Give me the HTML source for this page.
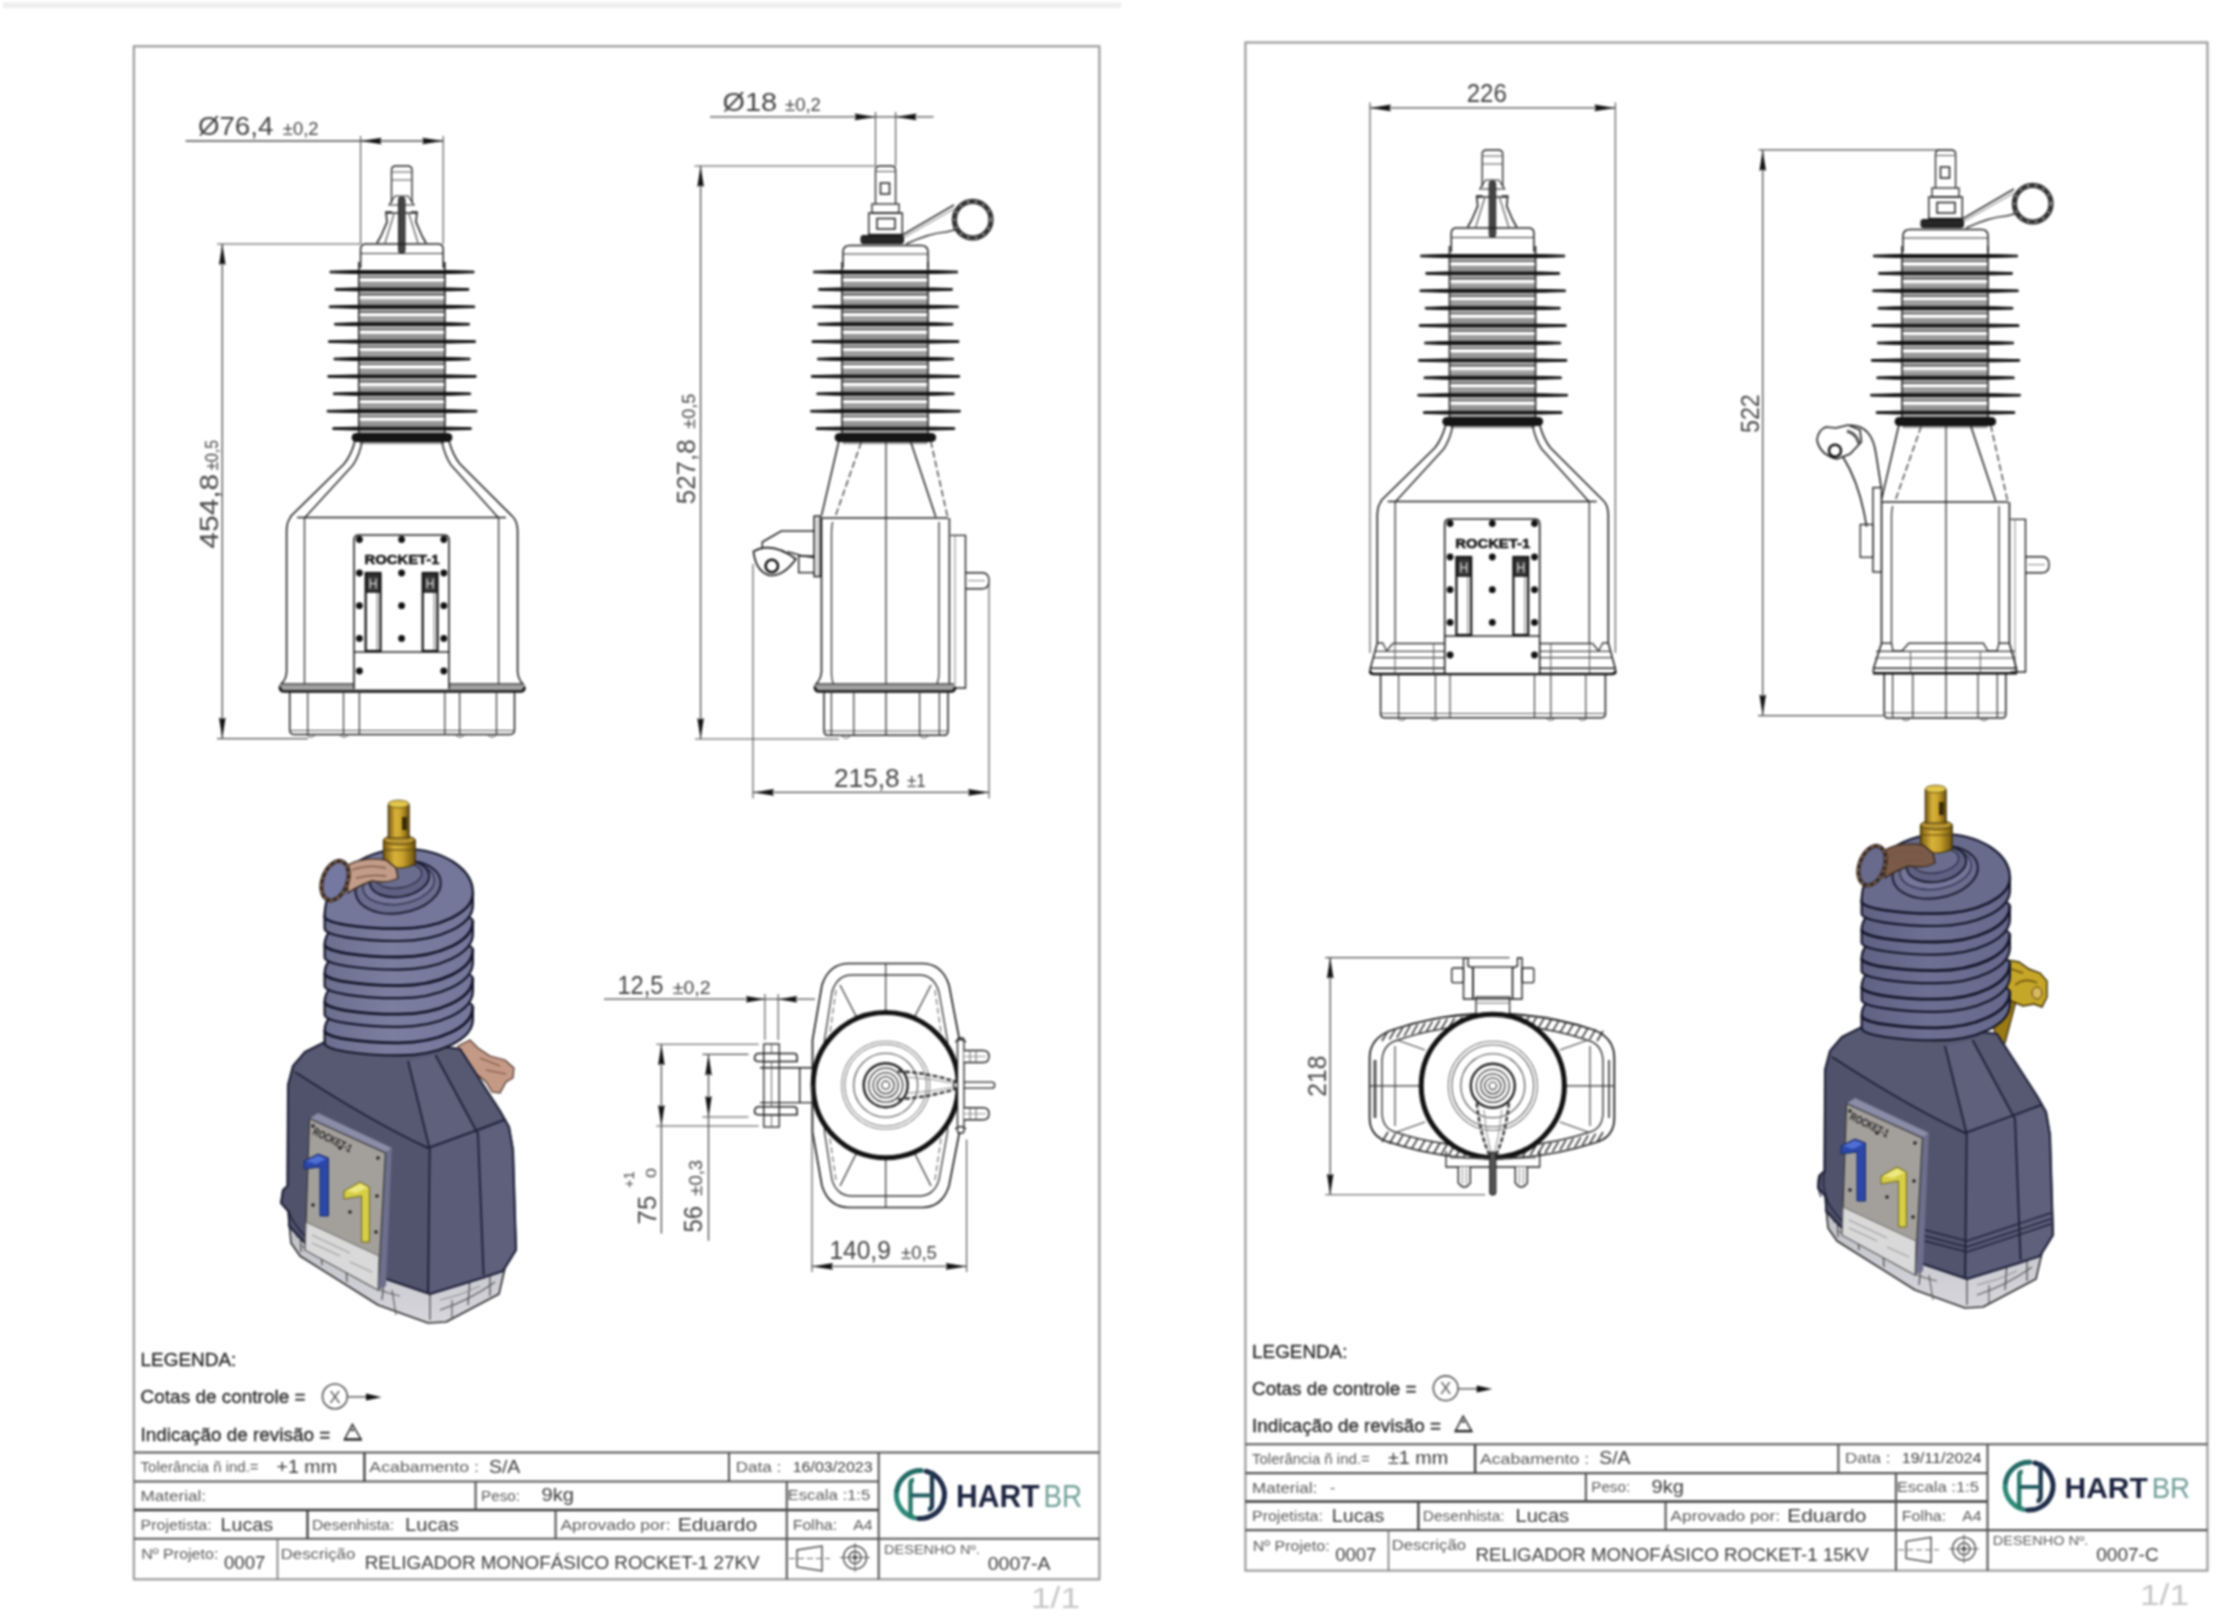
<!DOCTYPE html><html><head><meta charset="utf-8"><title>Religador Rocket-1</title><style>html,body{margin:0;padding:0;background:#fff;overflow:hidden}svg{display:block;filter:blur(0.8px)}text{font-family:"Liberation Sans",sans-serif}</style></head><body>
<svg width="2236" height="1611" viewBox="0 0 2236 1611">
<defs>
<linearGradient id="gold" x1="0" x2="1" y1="0" y2="0">
 <stop offset="0" stop-color="#7a5a10"/><stop offset="0.35" stop-color="#d8b23a"/><stop offset="0.6" stop-color="#c9a22c"/><stop offset="1" stop-color="#6e520e"/>
</linearGradient>
<linearGradient id="ins" x1="0" x2="1" y1="0" y2="0">
 <stop offset="0" stop-color="#6c6f8e"/><stop offset="0.45" stop-color="#7b7e9f"/><stop offset="1" stop-color="#74779a"/>
</linearGradient>
<linearGradient id="insR" x1="0" x2="1" y1="0" y2="0">
 <stop offset="0" stop-color="#5f6283"/><stop offset="0.45" stop-color="#6d7092"/><stop offset="1" stop-color="#66698b"/>
</linearGradient>
<linearGradient id="front" x1="0" x2="1" y1="0" y2="0">
 <stop offset="0" stop-color="#50526b"/><stop offset="1" stop-color="#54566f"/>
</linearGradient>
<linearGradient id="base" x1="0" x2="0" y1="0" y2="1">
 <stop offset="0" stop-color="#bcbcc4"/><stop offset="1" stop-color="#d6d6dc"/>
</linearGradient>
</defs>
<rect x="0" y="0" width="2236" height="1611" fill="#fff"/>
<rect x="3" y="2.5" width="1118" height="5.5" fill="#eeeeee"/>
<rect x="133.9" y="46.3" width="965.5" height="1533" fill="none" stroke="#9a9a9a" stroke-width="2.2" />
<text x="140.6" y="1365.8" font-size="19.2" fill="#2a2a2a" text-anchor="start" font-family="Liberation Sans" textLength="95.7" lengthAdjust="spacingAndGlyphs" stroke="#2a2a2a" stroke-width="0.35">LEGENDA:</text>
<text x="140.6" y="1403.3" font-size="19.2" fill="#2a2a2a" text-anchor="start" font-family="Liberation Sans" textLength="165" lengthAdjust="spacingAndGlyphs" stroke="#2a2a2a" stroke-width="0.35">Cotas de controle =</text>
<text x="140.6" y="1440.7" font-size="19.2" fill="#2a2a2a" text-anchor="start" font-family="Liberation Sans" textLength="189.6" lengthAdjust="spacingAndGlyphs" stroke="#2a2a2a" stroke-width="0.35">Indicação de revisão =</text>
<circle cx="334.9" cy="1396.4" r="12.4" fill="none" stroke="#555" stroke-width="1.6" />
<text x="334.9" y="1402.6" font-size="17" fill="#555" text-anchor="middle" font-family="Liberation Sans" >X</text>
<line x1="347.3" y1="1396.9" x2="368" y2="1396.9" stroke="#666" stroke-width="1.6" />
<polygon points="381.7,1397.2 366,1393.6 366,1400.6" fill="#111" stroke="none" stroke-width="1" />
<polygon points="352.4,1424.3 344.4,1439.7 361.2,1439.7" fill="none" stroke="#333" stroke-width="1.6" />
<line x1="344.4" y1="1439.3" x2="361.2" y2="1439.3" stroke="#222" stroke-width="2.2" />
<circle cx="352.4" cy="1430" r="1.5" fill="#444" stroke="none" stroke-width="1.2" />
<line x1="133.9" y1="1452.5" x2="1099.4" y2="1452.5" stroke="#555" stroke-width="2.1" />
<line x1="133.9" y1="1481.5" x2="878.7" y2="1481.5" stroke="#555" stroke-width="2.1" />
<line x1="133.9" y1="1510" x2="878.7" y2="1510" stroke="#3a3a3a" stroke-width="2.6" />
<line x1="133.9" y1="1538.7" x2="1099.4" y2="1538.7" stroke="#555" stroke-width="2.1" />
<line x1="878.7" y1="1452.5" x2="878.7" y2="1579.3" stroke="#555" stroke-width="2.1" />
<line x1="364.4" y1="1452.5" x2="364.4" y2="1481.5" stroke="#444" stroke-width="2.4" />
<line x1="729" y1="1452.5" x2="729" y2="1481.5" stroke="#555" stroke-width="2.1" />
<line x1="475.6" y1="1481.5" x2="475.6" y2="1510" stroke="#555" stroke-width="2.1" />
<line x1="786.8" y1="1481.5" x2="786.8" y2="1579.3" stroke="#555" stroke-width="2.1" />
<line x1="307.5" y1="1510" x2="307.5" y2="1538.7" stroke="#444" stroke-width="2.4" />
<line x1="555.6" y1="1510" x2="555.6" y2="1538.7" stroke="#555" stroke-width="2.1" />
<line x1="277.5" y1="1538.7" x2="277.5" y2="1579.3" stroke="#777" stroke-width="1.6" />
<text x="140.6" y="1472" font-size="14" fill="#5a5a5a" text-anchor="start" font-family="Liberation Sans" textLength="118" lengthAdjust="spacingAndGlyphs" >Tolerância ñ ind.=</text>
<text x="276.5" y="1472.5" font-size="18" fill="#3a3a3a" text-anchor="start" font-family="Liberation Sans" textLength="60.5" lengthAdjust="spacingAndGlyphs" >+1 mm</text>
<text x="369.3" y="1472" font-size="14" fill="#5a5a5a" text-anchor="start" font-family="Liberation Sans" textLength="109.6" lengthAdjust="spacingAndGlyphs" >Acabamento :</text>
<text x="489" y="1472.5" font-size="18" fill="#3a3a3a" text-anchor="start" font-family="Liberation Sans" textLength="31.3" lengthAdjust="spacingAndGlyphs" >S/A</text>
<text x="735.7" y="1471.5" font-size="14" fill="#5a5a5a" text-anchor="start" font-family="Liberation Sans" textLength="45.6" lengthAdjust="spacingAndGlyphs" >Data :</text>
<text x="792.7" y="1471.5" font-size="14" fill="#3a3a3a" text-anchor="start" font-family="Liberation Sans" textLength="79.9" lengthAdjust="spacingAndGlyphs" >16/03/2023</text>
<text x="140.6" y="1501" font-size="14" fill="#5a5a5a" text-anchor="start" font-family="Liberation Sans" textLength="65.4" lengthAdjust="spacingAndGlyphs" >Material:</text>
<text x="481" y="1500.5" font-size="14" fill="#5a5a5a" text-anchor="start" font-family="Liberation Sans" textLength="39" lengthAdjust="spacingAndGlyphs" >Peso:</text>
<text x="541.5" y="1501" font-size="18" fill="#3a3a3a" text-anchor="start" font-family="Liberation Sans" textLength="32.5" lengthAdjust="spacingAndGlyphs" >9kg</text>
<text x="787.5" y="1500.4" font-size="15" fill="#5a5a5a" text-anchor="start" font-family="Liberation Sans" textLength="82.8" lengthAdjust="spacingAndGlyphs" >Escala :1:5</text>
<text x="140.6" y="1529.5" font-size="14" fill="#5a5a5a" text-anchor="start" font-family="Liberation Sans" textLength="71.1" lengthAdjust="spacingAndGlyphs" >Projetista:</text>
<text x="220.6" y="1531" font-size="18" fill="#3a3a3a" text-anchor="start" font-family="Liberation Sans" textLength="52.6" lengthAdjust="spacingAndGlyphs" >Lucas</text>
<text x="311.9" y="1530" font-size="14" fill="#5a5a5a" text-anchor="start" font-family="Liberation Sans" textLength="82.1" lengthAdjust="spacingAndGlyphs" >Desenhista:</text>
<text x="405" y="1531" font-size="18" fill="#3a3a3a" text-anchor="start" font-family="Liberation Sans" textLength="53.8" lengthAdjust="spacingAndGlyphs" >Lucas</text>
<text x="560.4" y="1530" font-size="14" fill="#5a5a5a" text-anchor="start" font-family="Liberation Sans" textLength="110.2" lengthAdjust="spacingAndGlyphs" >Aprovado por:</text>
<text x="677.7" y="1530.5" font-size="18" fill="#3a3a3a" text-anchor="start" font-family="Liberation Sans" textLength="79.4" lengthAdjust="spacingAndGlyphs" >Eduardo</text>
<text x="792.7" y="1530" font-size="14" fill="#5a5a5a" text-anchor="start" font-family="Liberation Sans" textLength="44.5" lengthAdjust="spacingAndGlyphs" >Folha:</text>
<text x="853.2" y="1530" font-size="14" fill="#5a5a5a" text-anchor="start" font-family="Liberation Sans" textLength="19.4" lengthAdjust="spacingAndGlyphs" >A4</text>
<text x="141.2" y="1559.2" font-size="14" fill="#5a5a5a" text-anchor="start" font-family="Liberation Sans" textLength="77.2" lengthAdjust="spacingAndGlyphs" >Nº Projeto:</text>
<text x="224" y="1569.3" font-size="18" fill="#3a3a3a" text-anchor="start" font-family="Liberation Sans" textLength="41.3" lengthAdjust="spacingAndGlyphs" >0007</text>
<text x="280.7" y="1558.5" font-size="14" fill="#5a5a5a" text-anchor="start" font-family="Liberation Sans" textLength="74.6" lengthAdjust="spacingAndGlyphs" >Descrição</text>
<text x="364.8" y="1569.2" font-size="18" fill="#3a3a3a" text-anchor="start" font-family="Liberation Sans" textLength="394.7" lengthAdjust="spacingAndGlyphs" >RELIGADOR MONOFÁSICO ROCKET-1 27KV</text>
<text x="884" y="1554" font-size="13" fill="#5a5a5a" text-anchor="start" font-family="Liberation Sans" textLength="95.8" lengthAdjust="spacingAndGlyphs" >DESENHO Nº.</text>
<text x="987.8" y="1570" font-size="18" fill="#3a3a3a" text-anchor="start" font-family="Liberation Sans" textLength="62.7" lengthAdjust="spacingAndGlyphs" >0007-A</text>
<path d="M797,1550 L822,1546 L822,1571 L797,1567 Z" fill="none" stroke="#444" stroke-width="1.4" />
<line x1="789" y1="1558.5" x2="830" y2="1558.5" stroke="#666" stroke-width="1" stroke-dasharray="6,3"/>
<circle cx="855" cy="1557.5" r="11.5" fill="none" stroke="#444" stroke-width="1.4" />
<circle cx="855" cy="1557.5" r="6" fill="none" stroke="#444" stroke-width="1.4" />
<circle cx="855" cy="1557.5" r="2.2" fill="#444" stroke="none" stroke-width="1.2" />
<line x1="840" y1="1557.5" x2="870" y2="1557.5" stroke="#555" stroke-width="1" />
<line x1="855" y1="1543" x2="855" y2="1572" stroke="#555" stroke-width="1" />
<path d="M914.6,1517.9 A24,24 0 0 1 896.8,1490.4" fill="none" stroke="#2c8a78" stroke-width="5" stroke-linecap="round"/>
<path d="M896.8,1490.4 A24,24 0 0 1 921.2,1470.6" fill="none" stroke="#236a66" stroke-width="5" stroke-linecap="round"/>
<path d="M926.2,1471.3 A24,24 0 0 1 943,1502.8" fill="none" stroke="#1d2a4a" stroke-width="5" stroke-linecap="round"/>
<path d="M943,1502.8 A24,24 0 0 1 918.7,1518.5" fill="none" stroke="#1f2d4a" stroke-width="5" stroke-linecap="round"/>
<path d="M910.5,1517 L910.5,1484 Q910.5,1480 914,1480" fill="none" stroke="#2a7a6c" stroke-width="4.4" />
<path d="M932,1471 L932,1505 Q932,1509.5 928,1509.5" fill="none" stroke="#1f3a4e" stroke-width="4.4" />
<line x1="910.5" y1="1495.4" x2="932" y2="1495.4" stroke="#245c60" stroke-width="4" />
<text x="956" y="1506.7" font-size="30.5" fill="#1c2440" text-anchor="start" font-family="Liberation Sans" font-weight="bold" textLength="83.5" lengthAdjust="spacingAndGlyphs" >HART</text>
<text x="1043.4" y="1506.7" font-size="30.5" fill="#72a09a" text-anchor="start" font-family="Liberation Sans" textLength="38.6" lengthAdjust="spacingAndGlyphs" >BR</text>
<text x="1031" y="1608" font-size="29" fill="#c6c6c6" text-anchor="start" font-family="Liberation Sans" textLength="49" lengthAdjust="spacingAndGlyphs" >1/1</text>
<g transform="translate(1112.0,-3.65) scale(0.9964,0.9968)">
<rect x="133.9" y="46.3" width="965.5" height="1533" fill="none" stroke="#9a9a9a" stroke-width="2.2" />
<text x="140.6" y="1365.8" font-size="19.2" fill="#2a2a2a" text-anchor="start" font-family="Liberation Sans" textLength="95.7" lengthAdjust="spacingAndGlyphs" stroke="#2a2a2a" stroke-width="0.35">LEGENDA:</text>
<text x="140.6" y="1403.3" font-size="19.2" fill="#2a2a2a" text-anchor="start" font-family="Liberation Sans" textLength="165" lengthAdjust="spacingAndGlyphs" stroke="#2a2a2a" stroke-width="0.35">Cotas de controle =</text>
<text x="140.6" y="1440.7" font-size="19.2" fill="#2a2a2a" text-anchor="start" font-family="Liberation Sans" textLength="189.6" lengthAdjust="spacingAndGlyphs" stroke="#2a2a2a" stroke-width="0.35">Indicação de revisão =</text>
<circle cx="334.9" cy="1396.4" r="12.4" fill="none" stroke="#555" stroke-width="1.6" />
<text x="334.9" y="1402.6" font-size="17" fill="#555" text-anchor="middle" font-family="Liberation Sans" >X</text>
<line x1="347.3" y1="1396.9" x2="368" y2="1396.9" stroke="#666" stroke-width="1.6" />
<polygon points="381.7,1397.2 366,1393.6 366,1400.6" fill="#111" stroke="none" stroke-width="1" />
<polygon points="352.4,1424.3 344.4,1439.7 361.2,1439.7" fill="none" stroke="#333" stroke-width="1.6" />
<line x1="344.4" y1="1439.3" x2="361.2" y2="1439.3" stroke="#222" stroke-width="2.2" />
<circle cx="352.4" cy="1430" r="1.5" fill="#444" stroke="none" stroke-width="1.2" />
<line x1="133.9" y1="1452.5" x2="1099.4" y2="1452.5" stroke="#555" stroke-width="2.1" />
<line x1="133.9" y1="1481.5" x2="878.7" y2="1481.5" stroke="#555" stroke-width="2.1" />
<line x1="133.9" y1="1510" x2="878.7" y2="1510" stroke="#3a3a3a" stroke-width="2.6" />
<line x1="133.9" y1="1538.7" x2="1099.4" y2="1538.7" stroke="#555" stroke-width="2.1" />
<line x1="878.7" y1="1452.5" x2="878.7" y2="1579.3" stroke="#555" stroke-width="2.1" />
<line x1="364.4" y1="1452.5" x2="364.4" y2="1481.5" stroke="#444" stroke-width="2.4" />
<line x1="729" y1="1452.5" x2="729" y2="1481.5" stroke="#555" stroke-width="2.1" />
<line x1="475.6" y1="1481.5" x2="475.6" y2="1510" stroke="#555" stroke-width="2.1" />
<line x1="786.8" y1="1481.5" x2="786.8" y2="1579.3" stroke="#555" stroke-width="2.1" />
<line x1="307.5" y1="1510" x2="307.5" y2="1538.7" stroke="#444" stroke-width="2.4" />
<line x1="555.6" y1="1510" x2="555.6" y2="1538.7" stroke="#555" stroke-width="2.1" />
<line x1="277.5" y1="1538.7" x2="277.5" y2="1579.3" stroke="#777" stroke-width="1.6" />
<text x="140.6" y="1472" font-size="14" fill="#5a5a5a" text-anchor="start" font-family="Liberation Sans" textLength="118" lengthAdjust="spacingAndGlyphs" >Tolerância ñ ind.=</text>
<text x="277" y="1472.5" font-size="18" fill="#3a3a3a" text-anchor="start" font-family="Liberation Sans" textLength="60.5" lengthAdjust="spacingAndGlyphs" >±1 mm</text>
<text x="369.3" y="1472" font-size="14" fill="#5a5a5a" text-anchor="start" font-family="Liberation Sans" textLength="109.6" lengthAdjust="spacingAndGlyphs" >Acabamento :</text>
<text x="489" y="1472.5" font-size="18" fill="#3a3a3a" text-anchor="start" font-family="Liberation Sans" textLength="31.3" lengthAdjust="spacingAndGlyphs" >S/A</text>
<text x="735.7" y="1471.5" font-size="14" fill="#5a5a5a" text-anchor="start" font-family="Liberation Sans" textLength="45.6" lengthAdjust="spacingAndGlyphs" >Data :</text>
<text x="792.7" y="1471.5" font-size="14" fill="#3a3a3a" text-anchor="start" font-family="Liberation Sans" textLength="79.9" lengthAdjust="spacingAndGlyphs" >19/11/2024</text>
<text x="140.6" y="1501" font-size="14" fill="#5a5a5a" text-anchor="start" font-family="Liberation Sans" textLength="65.4" lengthAdjust="spacingAndGlyphs" >Material:</text>
<text x="219" y="1501" font-size="14" fill="#5a5a5a" text-anchor="start" font-family="Liberation Sans" >-</text>
<text x="481" y="1500.5" font-size="14" fill="#5a5a5a" text-anchor="start" font-family="Liberation Sans" textLength="39" lengthAdjust="spacingAndGlyphs" >Peso:</text>
<text x="541.5" y="1501" font-size="18" fill="#3a3a3a" text-anchor="start" font-family="Liberation Sans" textLength="32.5" lengthAdjust="spacingAndGlyphs" >9kg</text>
<text x="787.5" y="1500.4" font-size="15" fill="#5a5a5a" text-anchor="start" font-family="Liberation Sans" textLength="82.8" lengthAdjust="spacingAndGlyphs" >Escala :1:5</text>
<text x="140.6" y="1529.5" font-size="14" fill="#5a5a5a" text-anchor="start" font-family="Liberation Sans" textLength="71.1" lengthAdjust="spacingAndGlyphs" >Projetista:</text>
<text x="220.6" y="1531" font-size="18" fill="#3a3a3a" text-anchor="start" font-family="Liberation Sans" textLength="52.6" lengthAdjust="spacingAndGlyphs" >Lucas</text>
<text x="311.9" y="1530" font-size="14" fill="#5a5a5a" text-anchor="start" font-family="Liberation Sans" textLength="82.1" lengthAdjust="spacingAndGlyphs" >Desenhista:</text>
<text x="405" y="1531" font-size="18" fill="#3a3a3a" text-anchor="start" font-family="Liberation Sans" textLength="53.8" lengthAdjust="spacingAndGlyphs" >Lucas</text>
<text x="560.4" y="1530" font-size="14" fill="#5a5a5a" text-anchor="start" font-family="Liberation Sans" textLength="110.2" lengthAdjust="spacingAndGlyphs" >Aprovado por:</text>
<text x="677.7" y="1530.5" font-size="18" fill="#3a3a3a" text-anchor="start" font-family="Liberation Sans" textLength="79.4" lengthAdjust="spacingAndGlyphs" >Eduardo</text>
<text x="792.7" y="1530" font-size="14" fill="#5a5a5a" text-anchor="start" font-family="Liberation Sans" textLength="44.5" lengthAdjust="spacingAndGlyphs" >Folha:</text>
<text x="853.2" y="1530" font-size="14" fill="#5a5a5a" text-anchor="start" font-family="Liberation Sans" textLength="19.4" lengthAdjust="spacingAndGlyphs" >A4</text>
<text x="141.2" y="1559.2" font-size="14" fill="#5a5a5a" text-anchor="start" font-family="Liberation Sans" textLength="77.2" lengthAdjust="spacingAndGlyphs" >Nº Projeto:</text>
<text x="224" y="1569.3" font-size="18" fill="#3a3a3a" text-anchor="start" font-family="Liberation Sans" textLength="41.3" lengthAdjust="spacingAndGlyphs" >0007</text>
<text x="280.7" y="1558.5" font-size="14" fill="#5a5a5a" text-anchor="start" font-family="Liberation Sans" textLength="74.6" lengthAdjust="spacingAndGlyphs" >Descrição</text>
<text x="364.8" y="1569.2" font-size="18" fill="#3a3a3a" text-anchor="start" font-family="Liberation Sans" textLength="394.7" lengthAdjust="spacingAndGlyphs" >RELIGADOR MONOFÁSICO ROCKET-1 15KV</text>
<text x="884" y="1554" font-size="13" fill="#5a5a5a" text-anchor="start" font-family="Liberation Sans" textLength="95.8" lengthAdjust="spacingAndGlyphs" >DESENHO Nº.</text>
<text x="987.8" y="1570" font-size="18" fill="#3a3a3a" text-anchor="start" font-family="Liberation Sans" textLength="62.7" lengthAdjust="spacingAndGlyphs" >0007-C</text>
<path d="M797,1550 L822,1546 L822,1571 L797,1567 Z" fill="none" stroke="#444" stroke-width="1.4" />
<line x1="789" y1="1558.5" x2="830" y2="1558.5" stroke="#666" stroke-width="1" stroke-dasharray="6,3"/>
<circle cx="855" cy="1557.5" r="11.5" fill="none" stroke="#444" stroke-width="1.4" />
<circle cx="855" cy="1557.5" r="6" fill="none" stroke="#444" stroke-width="1.4" />
<circle cx="855" cy="1557.5" r="2.2" fill="#444" stroke="none" stroke-width="1.2" />
<line x1="840" y1="1557.5" x2="870" y2="1557.5" stroke="#555" stroke-width="1" />
<line x1="855" y1="1543" x2="855" y2="1572" stroke="#555" stroke-width="1" />
<path d="M914.6,1517.9 A24,24 0 0 1 896.8,1490.4" fill="none" stroke="#2c8a78" stroke-width="5" stroke-linecap="round"/>
<path d="M896.8,1490.4 A24,24 0 0 1 921.2,1470.6" fill="none" stroke="#236a66" stroke-width="5" stroke-linecap="round"/>
<path d="M926.2,1471.3 A24,24 0 0 1 943,1502.8" fill="none" stroke="#1d2a4a" stroke-width="5" stroke-linecap="round"/>
<path d="M943,1502.8 A24,24 0 0 1 918.7,1518.5" fill="none" stroke="#1f2d4a" stroke-width="5" stroke-linecap="round"/>
<path d="M910.5,1517 L910.5,1484 Q910.5,1480 914,1480" fill="none" stroke="#2a7a6c" stroke-width="4.4" />
<path d="M932,1471 L932,1505 Q932,1509.5 928,1509.5" fill="none" stroke="#1f3a4e" stroke-width="4.4" />
<line x1="910.5" y1="1495.4" x2="932" y2="1495.4" stroke="#245c60" stroke-width="4" />
<text x="956" y="1506.7" font-size="30.5" fill="#1c2440" text-anchor="start" font-family="Liberation Sans" font-weight="bold" textLength="83.5" lengthAdjust="spacingAndGlyphs" >HART</text>
<text x="1043.4" y="1506.7" font-size="30.5" fill="#72a09a" text-anchor="start" font-family="Liberation Sans" textLength="38.6" lengthAdjust="spacingAndGlyphs" >BR</text>
</g>
<text x="2140" y="1605" font-size="29" fill="#c6c6c6" text-anchor="start" font-family="Liberation Sans" textLength="49" lengthAdjust="spacingAndGlyphs" >1/1</text>
<path d="M391.5,203 L391.5,170 Q391.5,166 396,166 L407.5,166 Q412,166 412,170 L412,203" fill="none" stroke="#1e1e1e" stroke-width="1.3" />
<line x1="391.5" y1="172" x2="412" y2="172" stroke="#555" stroke-width="1" />
<line x1="391.5" y1="180" x2="412" y2="180" stroke="#555" stroke-width="1" />
<path d="M389,205 L395,196 L408,196 L414,205 Z" fill="none" stroke="#1e1e1e" stroke-width="1.1" />
<path d="M392,212 L386,212 L387,222 L381,236 L377,243" fill="none" stroke="#1e1e1e" stroke-width="1.6" />
<path d="M411,212 L417,212 L416,222 L422,236 L426,243" fill="none" stroke="#1e1e1e" stroke-width="1.6" />
<path d="M394,214 L385,243 M409,214 L418,243" fill="none" stroke="#555" stroke-width="1.2" />
<path d="M386,213 L417,213" fill="none" stroke="#1e1e1e" stroke-width="1.4" />
<rect x="398.5" y="197" width="6.5" height="56" rx="2.5" fill="#444" stroke="#222" stroke-width="1" />
<path d="M360.6,268 L360.6,249 Q360.6,244 366,244 L437.8,244 Q443.2,244 443.2,249 L443.2,268" fill="none" stroke="#1e1e1e" stroke-width="1.5" />
<line x1="360.6" y1="253.5" x2="443.2" y2="253.5" stroke="#333" stroke-width="1.2" />
<rect x="359.5" y="274.2" width="84.7" height="2.4" fill="#a8a8a8" stroke="none" stroke-width="1.2" />
<line x1="359.5" y1="277.4" x2="444.2" y2="277.4" stroke="#444" stroke-width="1.4" />
<line x1="359.5" y1="282.6" x2="444.2" y2="282.6" stroke="#555" stroke-width="1.2" />
<rect x="359.5" y="283.8" width="84.7" height="3.8" fill="#9c9c9c" stroke="none" stroke-width="1.2" />
<line x1="359.5" y1="285.2" x2="444.2" y2="285.2" stroke="#7a7a7a" stroke-width="0.8" />
<rect x="359.5" y="291.6" width="84.7" height="2.4" fill="#a8a8a8" stroke="none" stroke-width="1.2" />
<line x1="359.5" y1="294.8" x2="444.2" y2="294.8" stroke="#444" stroke-width="1.4" />
<line x1="359.5" y1="300" x2="444.2" y2="300" stroke="#555" stroke-width="1.2" />
<rect x="359.5" y="301.2" width="84.7" height="3.8" fill="#9c9c9c" stroke="none" stroke-width="1.2" />
<line x1="359.5" y1="302.6" x2="444.2" y2="302.6" stroke="#7a7a7a" stroke-width="0.8" />
<rect x="359.5" y="309" width="84.7" height="2.4" fill="#a8a8a8" stroke="none" stroke-width="1.2" />
<line x1="359.5" y1="312.2" x2="444.2" y2="312.2" stroke="#444" stroke-width="1.4" />
<line x1="359.5" y1="317.4" x2="444.2" y2="317.4" stroke="#555" stroke-width="1.2" />
<rect x="359.5" y="318.6" width="84.7" height="3.8" fill="#9c9c9c" stroke="none" stroke-width="1.2" />
<line x1="359.5" y1="320" x2="444.2" y2="320" stroke="#7a7a7a" stroke-width="0.8" />
<rect x="359.5" y="326.4" width="84.7" height="2.4" fill="#a8a8a8" stroke="none" stroke-width="1.2" />
<line x1="359.5" y1="329.6" x2="444.2" y2="329.6" stroke="#444" stroke-width="1.4" />
<line x1="359.5" y1="334.8" x2="444.2" y2="334.8" stroke="#555" stroke-width="1.2" />
<rect x="359.5" y="336" width="84.7" height="3.8" fill="#9c9c9c" stroke="none" stroke-width="1.2" />
<line x1="359.5" y1="337.4" x2="444.2" y2="337.4" stroke="#7a7a7a" stroke-width="0.8" />
<rect x="359.5" y="343.8" width="84.7" height="2.4" fill="#a8a8a8" stroke="none" stroke-width="1.2" />
<line x1="359.5" y1="347" x2="444.2" y2="347" stroke="#444" stroke-width="1.4" />
<line x1="359.5" y1="352.2" x2="444.2" y2="352.2" stroke="#555" stroke-width="1.2" />
<rect x="359.5" y="353.4" width="84.7" height="3.8" fill="#9c9c9c" stroke="none" stroke-width="1.2" />
<line x1="359.5" y1="354.8" x2="444.2" y2="354.8" stroke="#7a7a7a" stroke-width="0.8" />
<rect x="359.5" y="361.2" width="84.7" height="2.4" fill="#a8a8a8" stroke="none" stroke-width="1.2" />
<line x1="359.5" y1="364.4" x2="444.2" y2="364.4" stroke="#444" stroke-width="1.4" />
<line x1="359.5" y1="369.6" x2="444.2" y2="369.6" stroke="#555" stroke-width="1.2" />
<rect x="359.5" y="370.8" width="84.7" height="3.8" fill="#9c9c9c" stroke="none" stroke-width="1.2" />
<line x1="359.5" y1="372.2" x2="444.2" y2="372.2" stroke="#7a7a7a" stroke-width="0.8" />
<rect x="359.5" y="378.6" width="84.7" height="2.4" fill="#a8a8a8" stroke="none" stroke-width="1.2" />
<line x1="359.5" y1="381.8" x2="444.2" y2="381.8" stroke="#444" stroke-width="1.4" />
<line x1="359.5" y1="387" x2="444.2" y2="387" stroke="#555" stroke-width="1.2" />
<rect x="359.5" y="388.2" width="84.7" height="3.8" fill="#9c9c9c" stroke="none" stroke-width="1.2" />
<line x1="359.5" y1="389.6" x2="444.2" y2="389.6" stroke="#7a7a7a" stroke-width="0.8" />
<rect x="359.5" y="396" width="84.7" height="2.4" fill="#a8a8a8" stroke="none" stroke-width="1.2" />
<line x1="359.5" y1="399.2" x2="444.2" y2="399.2" stroke="#444" stroke-width="1.4" />
<line x1="359.5" y1="404.4" x2="444.2" y2="404.4" stroke="#555" stroke-width="1.2" />
<rect x="359.5" y="405.6" width="84.7" height="3.8" fill="#9c9c9c" stroke="none" stroke-width="1.2" />
<line x1="359.5" y1="407" x2="444.2" y2="407" stroke="#7a7a7a" stroke-width="0.8" />
<rect x="359.5" y="413.4" width="84.7" height="2.4" fill="#a8a8a8" stroke="none" stroke-width="1.2" />
<line x1="359.5" y1="416.6" x2="444.2" y2="416.6" stroke="#444" stroke-width="1.4" />
<line x1="359.5" y1="421.8" x2="444.2" y2="421.8" stroke="#555" stroke-width="1.2" />
<rect x="359.5" y="423" width="84.7" height="3.8" fill="#9c9c9c" stroke="none" stroke-width="1.2" />
<line x1="359.5" y1="424.4" x2="444.2" y2="424.4" stroke="#7a7a7a" stroke-width="0.8" />
<rect x="359.5" y="430.8" width="84.7" height="2.4" fill="#a8a8a8" stroke="none" stroke-width="1.2" />
<line x1="359.5" y1="434" x2="444.2" y2="434" stroke="#444" stroke-width="1.4" />
<line x1="359.5" y1="439.2" x2="444.2" y2="439.2" stroke="#555" stroke-width="1.2" />
<rect x="359.5" y="440.4" width="84.7" height="3.8" fill="#9c9c9c" stroke="none" stroke-width="1.2" />
<line x1="359.5" y1="441.8" x2="444.2" y2="441.8" stroke="#7a7a7a" stroke-width="0.8" />
<line x1="358.8" y1="262" x2="358.8" y2="437" stroke="#1e1e1e" stroke-width="1.6" />
<line x1="444.8" y1="262" x2="444.8" y2="437" stroke="#1e1e1e" stroke-width="1.6" />
<polygon points="330,271.2 354,270.6 450,270.6 474,271.2 474,272.8 450,273.4 354,273.4 330,272.8" fill="#111" stroke="#111" stroke-width="1" stroke-linejoin="round"/>
<polygon points="335.2,288.6 354,288 450,288 468.8,288.6 468.8,290.2 450,290.8 354,290.8 335.2,290.2" fill="#111" stroke="#111" stroke-width="1" stroke-linejoin="round"/>
<polygon points="329.3,306 354,305.4 450,305.4 474.7,306 474.7,307.6 450,308.2 354,308.2 329.3,307.6" fill="#111" stroke="#111" stroke-width="1" stroke-linejoin="round"/>
<polygon points="334.6,323.4 354,322.8 450,322.8 469.4,323.4 469.4,325 450,325.6 354,325.6 334.6,325" fill="#111" stroke="#111" stroke-width="1" stroke-linejoin="round"/>
<polygon points="328.6,340.8 354,340.2 450,340.2 475.4,340.8 475.4,342.4 450,343 354,343 328.6,342.4" fill="#111" stroke="#111" stroke-width="1" stroke-linejoin="round"/>
<polygon points="334,358.2 354,357.6 450,357.6 470,358.2 470,359.8 450,360.4 354,360.4 334,359.8" fill="#111" stroke="#111" stroke-width="1" stroke-linejoin="round"/>
<polygon points="327.9,375.6 354,375 450,375 476.1,375.6 476.1,377.2 450,377.8 354,377.8 327.9,377.2" fill="#111" stroke="#111" stroke-width="1" stroke-linejoin="round"/>
<polygon points="333.4,393 354,392.4 450,392.4 470.6,393 470.6,394.6 450,395.2 354,395.2 333.4,394.6" fill="#111" stroke="#111" stroke-width="1" stroke-linejoin="round"/>
<polygon points="327.2,410.4 354,409.8 450,409.8 476.8,410.4 476.8,412 450,412.6 354,412.6 327.2,412" fill="#111" stroke="#111" stroke-width="1" stroke-linejoin="round"/>
<polygon points="332.8,427.8 354,427.2 450,427.2 471.2,427.8 471.2,429.4 450,430 354,430 332.8,429.4" fill="#111" stroke="#111" stroke-width="1" stroke-linejoin="round"/>
<rect x="352" y="433.5" width="100" height="8" rx="4" fill="#151515" stroke="#111" stroke-width="1" />
<path d="M355,441 C352,452 349,458 344,464 L290,517" fill="none" stroke="#1e1e1e" stroke-width="1.6" />
<path d="M362,442 C360,452 357,459 353,465 L304.5,518" fill="none" stroke="#1e1e1e" stroke-width="1.4" />
<path d="M449,441 C452,452 455,458 460,464 L513,517" fill="none" stroke="#1e1e1e" stroke-width="1.6" />
<path d="M442,442 C444,452 447,459 451,465 L498.6,518" fill="none" stroke="#1e1e1e" stroke-width="1.4" />
<line x1="297" y1="517.5" x2="506" y2="517.5" stroke="#1e1e1e" stroke-width="1.6" />
<path d="M291,517 Q287,521 286.6,530 L286.6,672 Q286,680 281,684 L279,688" fill="none" stroke="#1e1e1e" stroke-width="1.6" />
<path d="M513,517 Q517,521 517.6,530 L517.6,672 Q518.5,680 523,684 L525,688" fill="none" stroke="#1e1e1e" stroke-width="1.6" />
<line x1="304.5" y1="518" x2="304.5" y2="688" stroke="#333" stroke-width="1.3" />
<line x1="498.6" y1="518" x2="498.6" y2="688" stroke="#333" stroke-width="1.3" />
<rect x="280" y="684" width="244.5" height="7" rx="2" fill="#a0a0a0" stroke="none" stroke-width="1.2" />
<line x1="281" y1="683.8" x2="523.5" y2="683.8" stroke="#333" stroke-width="1.3" />
<path d="M280,687 Q280,691.5 284,691.5 L520.5,691.5 Q524.5,691.5 524.5,687" fill="none" stroke="#111" stroke-width="2.6" />
<path d="M289.7,691 L289.7,730 Q289.7,734.4 294,734.4 L510,734.4 Q514.5,734.4 514.5,730 L514.5,691" fill="none" stroke="#1e1e1e" stroke-width="1.5" />
<line x1="289.7" y1="730.5" x2="514.5" y2="730.5" stroke="#555" stroke-width="1" />
<line x1="307.7" y1="691" x2="307.7" y2="734" stroke="#333" stroke-width="1.2" />
<line x1="343.5" y1="691" x2="343.5" y2="734" stroke="#333" stroke-width="1.2" />
<line x1="359.4" y1="691" x2="359.4" y2="734" stroke="#333" stroke-width="1.2" />
<line x1="444.8" y1="691" x2="444.8" y2="734" stroke="#333" stroke-width="1.2" />
<line x1="459.6" y1="691" x2="459.6" y2="734" stroke="#333" stroke-width="1.2" />
<line x1="496.5" y1="691" x2="496.5" y2="734" stroke="#333" stroke-width="1.2" />
<path d="M306,734.4 Q311,740 316,734.4" fill="none" stroke="#555" stroke-width="1" />
<path d="M339,734.4 Q344,740 349,734.4" fill="none" stroke="#555" stroke-width="1" />
<path d="M455,734.4 Q460,740 465,734.4" fill="none" stroke="#555" stroke-width="1" />
<path d="M487,734.4 Q492,740 497,734.4" fill="none" stroke="#555" stroke-width="1" />
<path d="M354,689 L354,540 Q354,535 359,535 L444,535 Q449,535 449,540 L449,689" fill="#fff" stroke="#1e1e1e" stroke-width="1.6" />
<line x1="354" y1="652" x2="449" y2="652" stroke="#222" stroke-width="1.4" />
<text x="402" y="563.5" font-size="13.5" fill="#111" text-anchor="middle" font-family="Liberation Serif" font-weight="bold" textLength="75" lengthAdjust="spacingAndGlyphs" stroke="#111" stroke-width="0.5">ROCKET-1</text>
<rect x="365.7" y="573" width="14.8" height="78" fill="#fff" stroke="#111" stroke-width="2.2" />
<line x1="377.2" y1="592" x2="377.2" y2="650" stroke="#666" stroke-width="1" />
<rect x="366.2" y="575" width="13.8" height="17" fill="#3a3a3a" stroke="#111" stroke-width="1.5" />
<line x1="370.2" y1="578.5" x2="370.2" y2="588.5" stroke="#ddd" stroke-width="1.3" />
<line x1="376" y1="578.5" x2="376" y2="588.5" stroke="#ddd" stroke-width="1.3" />
<line x1="370.2" y1="583.5" x2="376" y2="583.5" stroke="#ddd" stroke-width="1.2" />
<rect x="422.7" y="573" width="14.8" height="78" fill="#fff" stroke="#111" stroke-width="2.2" />
<line x1="434.2" y1="592" x2="434.2" y2="650" stroke="#666" stroke-width="1" />
<rect x="423.2" y="575" width="13.8" height="17" fill="#3a3a3a" stroke="#111" stroke-width="1.5" />
<line x1="427.2" y1="578.5" x2="427.2" y2="588.5" stroke="#ddd" stroke-width="1.3" />
<line x1="433" y1="578.5" x2="433" y2="588.5" stroke="#ddd" stroke-width="1.3" />
<line x1="427.2" y1="583.5" x2="433" y2="583.5" stroke="#ddd" stroke-width="1.2" />
<circle cx="359.4" cy="539.5" r="3.4" fill="#111" stroke="none" stroke-width="1.2" />
<circle cx="401.6" cy="539.5" r="3.4" fill="#111" stroke="none" stroke-width="1.2" />
<circle cx="443.8" cy="539.5" r="3.4" fill="#111" stroke="none" stroke-width="1.2" />
<circle cx="359.4" cy="573" r="3.4" fill="#111" stroke="none" stroke-width="1.2" />
<circle cx="401.6" cy="573" r="3.4" fill="#111" stroke="none" stroke-width="1.2" />
<circle cx="443.8" cy="573" r="3.4" fill="#111" stroke="none" stroke-width="1.2" />
<circle cx="359.4" cy="605.7" r="3.4" fill="#111" stroke="none" stroke-width="1.2" />
<circle cx="401.6" cy="605.7" r="3.4" fill="#111" stroke="none" stroke-width="1.2" />
<circle cx="443.8" cy="605.7" r="3.4" fill="#111" stroke="none" stroke-width="1.2" />
<circle cx="359.4" cy="638.4" r="3.4" fill="#111" stroke="none" stroke-width="1.2" />
<circle cx="401.6" cy="638.4" r="3.4" fill="#111" stroke="none" stroke-width="1.2" />
<circle cx="443.8" cy="638.4" r="3.4" fill="#111" stroke="none" stroke-width="1.2" />
<circle cx="359.4" cy="671" r="3.4" fill="#111" stroke="none" stroke-width="1.2" />
<circle cx="443.8" cy="671" r="3.4" fill="#111" stroke="none" stroke-width="1.2" />
<path d="M875.5,204 L875.5,170 Q875.5,166 880,166 L891,166 Q895.6,166 895.6,170 L895.6,204" fill="none" stroke="#1e1e1e" stroke-width="1.3" />
<line x1="875.5" y1="171.5" x2="895.6" y2="171.5" stroke="#555" stroke-width="1" />
<rect x="880.5" y="183" width="9" height="11" fill="none" stroke="#1e1e1e" stroke-width="1.5" />
<rect x="872" y="204" width="27" height="9" fill="none" stroke="#1e1e1e" stroke-width="1.3" />
<rect x="868.8" y="213" width="33.5" height="21.5" fill="none" stroke="#1e1e1e" stroke-width="1.4" />
<rect x="877" y="218.5" width="18" height="10.5" fill="none" stroke="#1e1e1e" stroke-width="1.5" />
<path d="M899,237 L954,205 M906,244 Q930,233 946,232 Q953,231 958,228" fill="none" stroke="#333" stroke-width="1.5" />
<path d="M901,239 L954,209" fill="none" stroke="#777" stroke-width="1" />
<circle cx="972.7" cy="219.7" r="18.3" fill="#fff" stroke="#333" stroke-width="5.2" />
<circle cx="972.7" cy="219.7" r="18.3" fill="none" stroke="#ddd" stroke-width="1.3" stroke-dasharray="2,6"/>
<rect x="861" y="235.5" width="42.5" height="8" rx="2" fill="#262626" stroke="#111" stroke-width="1" />
<path d="M843,268 L843,252 Q843,245.4 850,245.4 L921,245.4 Q928,245.4 928,252 L928,268" fill="none" stroke="#1e1e1e" stroke-width="1.5" />
<line x1="843" y1="254" x2="928" y2="254" stroke="#333" stroke-width="1.2" />
<rect x="842.5" y="274.2" width="85" height="2.4" fill="#a8a8a8" stroke="none" stroke-width="1.2" />
<line x1="842.5" y1="277.4" x2="927.5" y2="277.4" stroke="#444" stroke-width="1.4" />
<line x1="842.5" y1="282.6" x2="927.5" y2="282.6" stroke="#555" stroke-width="1.2" />
<rect x="842.5" y="283.8" width="85" height="3.8" fill="#9c9c9c" stroke="none" stroke-width="1.2" />
<line x1="842.5" y1="285.2" x2="927.5" y2="285.2" stroke="#7a7a7a" stroke-width="0.8" />
<rect x="842.5" y="291.6" width="85" height="2.4" fill="#a8a8a8" stroke="none" stroke-width="1.2" />
<line x1="842.5" y1="294.8" x2="927.5" y2="294.8" stroke="#444" stroke-width="1.4" />
<line x1="842.5" y1="300" x2="927.5" y2="300" stroke="#555" stroke-width="1.2" />
<rect x="842.5" y="301.2" width="85" height="3.8" fill="#9c9c9c" stroke="none" stroke-width="1.2" />
<line x1="842.5" y1="302.6" x2="927.5" y2="302.6" stroke="#7a7a7a" stroke-width="0.8" />
<rect x="842.5" y="309" width="85" height="2.4" fill="#a8a8a8" stroke="none" stroke-width="1.2" />
<line x1="842.5" y1="312.2" x2="927.5" y2="312.2" stroke="#444" stroke-width="1.4" />
<line x1="842.5" y1="317.4" x2="927.5" y2="317.4" stroke="#555" stroke-width="1.2" />
<rect x="842.5" y="318.6" width="85" height="3.8" fill="#9c9c9c" stroke="none" stroke-width="1.2" />
<line x1="842.5" y1="320" x2="927.5" y2="320" stroke="#7a7a7a" stroke-width="0.8" />
<rect x="842.5" y="326.4" width="85" height="2.4" fill="#a8a8a8" stroke="none" stroke-width="1.2" />
<line x1="842.5" y1="329.6" x2="927.5" y2="329.6" stroke="#444" stroke-width="1.4" />
<line x1="842.5" y1="334.8" x2="927.5" y2="334.8" stroke="#555" stroke-width="1.2" />
<rect x="842.5" y="336" width="85" height="3.8" fill="#9c9c9c" stroke="none" stroke-width="1.2" />
<line x1="842.5" y1="337.4" x2="927.5" y2="337.4" stroke="#7a7a7a" stroke-width="0.8" />
<rect x="842.5" y="343.8" width="85" height="2.4" fill="#a8a8a8" stroke="none" stroke-width="1.2" />
<line x1="842.5" y1="347" x2="927.5" y2="347" stroke="#444" stroke-width="1.4" />
<line x1="842.5" y1="352.2" x2="927.5" y2="352.2" stroke="#555" stroke-width="1.2" />
<rect x="842.5" y="353.4" width="85" height="3.8" fill="#9c9c9c" stroke="none" stroke-width="1.2" />
<line x1="842.5" y1="354.8" x2="927.5" y2="354.8" stroke="#7a7a7a" stroke-width="0.8" />
<rect x="842.5" y="361.2" width="85" height="2.4" fill="#a8a8a8" stroke="none" stroke-width="1.2" />
<line x1="842.5" y1="364.4" x2="927.5" y2="364.4" stroke="#444" stroke-width="1.4" />
<line x1="842.5" y1="369.6" x2="927.5" y2="369.6" stroke="#555" stroke-width="1.2" />
<rect x="842.5" y="370.8" width="85" height="3.8" fill="#9c9c9c" stroke="none" stroke-width="1.2" />
<line x1="842.5" y1="372.2" x2="927.5" y2="372.2" stroke="#7a7a7a" stroke-width="0.8" />
<rect x="842.5" y="378.6" width="85" height="2.4" fill="#a8a8a8" stroke="none" stroke-width="1.2" />
<line x1="842.5" y1="381.8" x2="927.5" y2="381.8" stroke="#444" stroke-width="1.4" />
<line x1="842.5" y1="387" x2="927.5" y2="387" stroke="#555" stroke-width="1.2" />
<rect x="842.5" y="388.2" width="85" height="3.8" fill="#9c9c9c" stroke="none" stroke-width="1.2" />
<line x1="842.5" y1="389.6" x2="927.5" y2="389.6" stroke="#7a7a7a" stroke-width="0.8" />
<rect x="842.5" y="396" width="85" height="2.4" fill="#a8a8a8" stroke="none" stroke-width="1.2" />
<line x1="842.5" y1="399.2" x2="927.5" y2="399.2" stroke="#444" stroke-width="1.4" />
<line x1="842.5" y1="404.4" x2="927.5" y2="404.4" stroke="#555" stroke-width="1.2" />
<rect x="842.5" y="405.6" width="85" height="3.8" fill="#9c9c9c" stroke="none" stroke-width="1.2" />
<line x1="842.5" y1="407" x2="927.5" y2="407" stroke="#7a7a7a" stroke-width="0.8" />
<rect x="842.5" y="413.4" width="85" height="2.4" fill="#a8a8a8" stroke="none" stroke-width="1.2" />
<line x1="842.5" y1="416.6" x2="927.5" y2="416.6" stroke="#444" stroke-width="1.4" />
<line x1="842.5" y1="421.8" x2="927.5" y2="421.8" stroke="#555" stroke-width="1.2" />
<rect x="842.5" y="423" width="85" height="3.8" fill="#9c9c9c" stroke="none" stroke-width="1.2" />
<line x1="842.5" y1="424.4" x2="927.5" y2="424.4" stroke="#7a7a7a" stroke-width="0.8" />
<rect x="842.5" y="430.8" width="85" height="2.4" fill="#a8a8a8" stroke="none" stroke-width="1.2" />
<line x1="842.5" y1="434" x2="927.5" y2="434" stroke="#444" stroke-width="1.4" />
<line x1="842.5" y1="439.2" x2="927.5" y2="439.2" stroke="#555" stroke-width="1.2" />
<rect x="842.5" y="440.4" width="85" height="3.8" fill="#9c9c9c" stroke="none" stroke-width="1.2" />
<line x1="842.5" y1="441.8" x2="927.5" y2="441.8" stroke="#7a7a7a" stroke-width="0.8" />
<line x1="842" y1="262" x2="842" y2="437" stroke="#1e1e1e" stroke-width="1.6" />
<line x1="928" y1="262" x2="928" y2="437" stroke="#1e1e1e" stroke-width="1.6" />
<polygon points="813.5,271.2 837.5,270.6 933.5,270.6 957.5,271.2 957.5,272.8 933.5,273.4 837.5,273.4 813.5,272.8" fill="#111" stroke="#111" stroke-width="1" stroke-linejoin="round"/>
<polygon points="818.7,288.6 837.5,288 933.5,288 952.3,288.6 952.3,290.2 933.5,290.8 837.5,290.8 818.7,290.2" fill="#111" stroke="#111" stroke-width="1" stroke-linejoin="round"/>
<polygon points="812.8,306 837.5,305.4 933.5,305.4 958.2,306 958.2,307.6 933.5,308.2 837.5,308.2 812.8,307.6" fill="#111" stroke="#111" stroke-width="1" stroke-linejoin="round"/>
<polygon points="818.1,323.4 837.5,322.8 933.5,322.8 952.9,323.4 952.9,325 933.5,325.6 837.5,325.6 818.1,325" fill="#111" stroke="#111" stroke-width="1" stroke-linejoin="round"/>
<polygon points="812.1,340.8 837.5,340.2 933.5,340.2 958.9,340.8 958.9,342.4 933.5,343 837.5,343 812.1,342.4" fill="#111" stroke="#111" stroke-width="1" stroke-linejoin="round"/>
<polygon points="817.5,358.2 837.5,357.6 933.5,357.6 953.5,358.2 953.5,359.8 933.5,360.4 837.5,360.4 817.5,359.8" fill="#111" stroke="#111" stroke-width="1" stroke-linejoin="round"/>
<polygon points="811.4,375.6 837.5,375 933.5,375 959.6,375.6 959.6,377.2 933.5,377.8 837.5,377.8 811.4,377.2" fill="#111" stroke="#111" stroke-width="1" stroke-linejoin="round"/>
<polygon points="816.9,393 837.5,392.4 933.5,392.4 954.1,393 954.1,394.6 933.5,395.2 837.5,395.2 816.9,394.6" fill="#111" stroke="#111" stroke-width="1" stroke-linejoin="round"/>
<polygon points="810.7,410.4 837.5,409.8 933.5,409.8 960.3,410.4 960.3,412 933.5,412.6 837.5,412.6 810.7,412" fill="#111" stroke="#111" stroke-width="1" stroke-linejoin="round"/>
<polygon points="816.3,427.8 837.5,427.2 933.5,427.2 954.7,427.8 954.7,429.4 933.5,430 837.5,430 816.3,429.4" fill="#111" stroke="#111" stroke-width="1" stroke-linejoin="round"/>
<rect x="835" y="433.5" width="100.7" height="8" rx="4" fill="#151515" stroke="#111" stroke-width="1" />
<line x1="838.9" y1="441" x2="821.5" y2="515.6" stroke="#1e1e1e" stroke-width="1.5" />
<line x1="861.2" y1="442.3" x2="835.2" y2="516.8" stroke="#333" stroke-width="1.3" stroke-dasharray="7,3"/>
<line x1="910.9" y1="442.3" x2="935.7" y2="516.8" stroke="#1e1e1e" stroke-width="1.5" />
<line x1="930.7" y1="441" x2="948.1" y2="519.3" stroke="#333" stroke-width="1.3" stroke-dasharray="7,3"/>
<line x1="886" y1="442" x2="886" y2="735" stroke="#333" stroke-width="1.3" />
<line x1="821.5" y1="518" x2="948" y2="518" stroke="#1e1e1e" stroke-width="1.5" />
<path d="M950.6,535.4 L965.5,535.4 L965.5,688 L950.6,688" fill="none" stroke="#1e1e1e" stroke-width="1.4" />
<line x1="955" y1="535.4" x2="955" y2="688" stroke="#777" stroke-width="0.9" />
<path d="M965.5,572.7 L982,572.7 Q989,572.7 989,580.7 Q989,588.8 982,588.8 L965.5,588.8" fill="none" stroke="#1e1e1e" stroke-width="1.4" />
<line x1="968" y1="580.7" x2="985" y2="580.7" stroke="#777" stroke-width="0.9" />
<path d="M821.5,518 L821.5,672 Q820.5,680 816,684 L814,688" fill="none" stroke="#1e1e1e" stroke-width="1.6" />
<path d="M832.7,522 Q831.5,526 831.5,535 L831.5,674 Q832,684 836,688" fill="none" stroke="#333" stroke-width="1.3" />
<path d="M939,522 L939,674 Q938.5,684 934,688" fill="none" stroke="#333" stroke-width="1.3" />
<line x1="949.4" y1="518" x2="949.4" y2="688" stroke="#1e1e1e" stroke-width="1.5" />
<rect x="815" y="684" width="140" height="7" rx="2" fill="#a0a0a0" stroke="none" stroke-width="1.2" />
<line x1="816" y1="683.8" x2="954" y2="683.8" stroke="#333" stroke-width="1.3" />
<path d="M815,687 Q815,691.5 819,691.5 L951,691.5 Q955,691.5 955,687" fill="none" stroke="#111" stroke-width="2.6" />
<path d="M824,691 L824,731 Q824,735.3 828,735.3 L944,735.3 Q948,735.3 948,731 L948,691" fill="none" stroke="#1e1e1e" stroke-width="1.5" />
<line x1="824" y1="731" x2="948" y2="731" stroke="#555" stroke-width="1" />
<line x1="831.4" y1="691" x2="831.4" y2="735" stroke="#333" stroke-width="1.2" />
<line x1="853.8" y1="691" x2="853.8" y2="735" stroke="#333" stroke-width="1.2" />
<line x1="919.6" y1="691" x2="919.6" y2="735" stroke="#333" stroke-width="1.2" />
<line x1="939.4" y1="691" x2="939.4" y2="735" stroke="#333" stroke-width="1.2" />
<path d="M841,735.3 Q846,741 851,735.3" fill="none" stroke="#555" stroke-width="1" />
<path d="M919,735.3 Q924,741 929,735.3" fill="none" stroke="#555" stroke-width="1" />
<rect x="814.2" y="516.2" width="6.2" height="60.3" fill="#fff" stroke="#1e1e1e" stroke-width="1.6" />
<line x1="817.5" y1="518" x2="817.5" y2="575" stroke="#888" stroke-width="1" />
<path d="M814.2,531 L781.3,531 L762.3,542 L762.3,547" fill="none" stroke="#1e1e1e" stroke-width="1.5" />
<rect x="798.7" y="556" width="15.5" height="16.6" fill="#fff" stroke="#1e1e1e" stroke-width="1.4" />
<path d="M753.4,551.4 Q772,541 795.9,559 Q784,576 770,575.5 Q756,572 753.4,551.4 Z" fill="#fff" stroke="#111" stroke-width="1.6" />
<path d="M787.5,551.6 Q800,556 814.2,557.5" fill="none" stroke="#1e1e1e" stroke-width="1.5" />
<circle cx="771.8" cy="566" r="6.2" fill="#fff" stroke="#111" stroke-width="2.6" />
<path d="M849,963.5 L922,963.5 Q942,963.5 949,985 L959.5,1040 L959.5,1132 L949,1186 Q942,1207.5 922,1207.5 L849,1207.5 Q829,1207.5 822,1186 L812.5,1132 L812.5,1040 L822,985 Q829,963.5 849,963.5 Z" fill="none" stroke="#1e1e1e" stroke-width="1.7" />
<path d="M852,975 L919,975 Q934,975 939,992 L947.5,1040 L947.5,1132 L939,1180 Q934,1196 919,1196 L852,1196 Q837,1196 832,1180 L824.5,1132 L824.5,1040 L832,992 Q837,975 852,975 Z" fill="none" stroke="#333" stroke-width="1.3" />
<path d="M836,990 L829,1040 M935,990 L942,1040 M836,1180 L829,1132 M935,1180 L942,1132" fill="none" stroke="#555" stroke-width="1" stroke-dasharray="6,3"/>
<line x1="840" y1="985" x2="857" y2="1018" stroke="#333" stroke-width="1.2" />
<line x1="931" y1="985" x2="914" y2="1018" stroke="#333" stroke-width="1.2" />
<line x1="840" y1="1186" x2="857" y2="1152" stroke="#333" stroke-width="1.2" />
<line x1="931" y1="1186" x2="914" y2="1152" stroke="#333" stroke-width="1.2" />
<line x1="885.7" y1="963.5" x2="885.7" y2="1207.5" stroke="#333" stroke-width="1.2" />
<circle cx="885.7" cy="1085.2" r="72.6" fill="#fff" stroke="#111" stroke-width="5" />
<circle cx="885.7" cy="1085.2" r="44" fill="none" stroke="#888" stroke-width="1.1" />
<circle cx="885.7" cy="1085.2" r="41" fill="none" stroke="#666" stroke-width="1.0" />
<circle cx="885.7" cy="1085.2" r="32" fill="none" stroke="#444" stroke-width="1.1" />
<circle cx="885.7" cy="1085.2" r="22" fill="none" stroke="#222" stroke-width="2.4" />
<circle cx="885.7" cy="1085.2" r="17" fill="none" stroke="#333" stroke-width="1.3" />
<circle cx="885.7" cy="1085.2" r="12.5" fill="none" stroke="#333" stroke-width="1.3" />
<circle cx="885.7" cy="1085.2" r="8.5" fill="none" stroke="#333" stroke-width="1.3" />
<circle cx="885.7" cy="1085.2" r="4" fill="none" stroke="#333" stroke-width="1.2" />
<path d="M897.7,1071.2 Q930.7,1073.2 957.7,1082.2 M897.7,1099.2 Q930.7,1097.2 957.7,1088.2" fill="none" stroke="#333" stroke-width="2.4" stroke-dasharray="5,2"/>
<path d="M907.7,1077.2 Q930.7,1078.2 955.7,1083.7 M907.7,1093.2 Q930.7,1092.2 955.7,1086.7" fill="none" stroke="#888" stroke-width="1.0" />
<rect x="953.7" y="1082.2" width="41" height="6" rx="3" fill="#fff" stroke="#222" stroke-width="1.3" />
<rect x="957.5" y="1038" width="6.5" height="95" rx="2" fill="#fff" stroke="#1e1e1e" stroke-width="1.3" />
<path d="M964,1050.5 L983,1050.5 Q989,1050.5 989,1056.5 Q989,1062.5 983,1062.5 L964,1062.5" fill="#fff" stroke="#1e1e1e" stroke-width="1.4" />
<line x1="970" y1="1050.5" x2="970" y2="1062.5" stroke="#555" stroke-width="0.9" />
<line x1="976" y1="1050.5" x2="976" y2="1062.5" stroke="#555" stroke-width="0.9" />
<line x1="964" y1="1056.5" x2="986" y2="1056.5" stroke="#777" stroke-width="0.8" />
<path d="M964,1107.8 L983,1107.8 Q989,1107.8 989,1113.8 Q989,1119.8 983,1119.8 L964,1119.8" fill="#fff" stroke="#1e1e1e" stroke-width="1.4" />
<line x1="970" y1="1107.8" x2="970" y2="1119.8" stroke="#555" stroke-width="0.9" />
<line x1="976" y1="1107.8" x2="976" y2="1119.8" stroke="#555" stroke-width="0.9" />
<line x1="964" y1="1113.8" x2="986" y2="1113.8" stroke="#777" stroke-width="0.8" />
<path d="M955,1042 Q961,1037 966,1042" fill="none" stroke="#1e1e1e" stroke-width="1.2" />
<path d="M955,1129 Q961,1124 966,1129" fill="none" stroke="#1e1e1e" stroke-width="1.2" />
<path d="M812.5,1067.8 L799.7,1067.8 L799.7,1102.6 L812.5,1102.6" fill="none" stroke="#1e1e1e" stroke-width="1.4" />
<path d="M799.7,1067.8 L760,1067.8 M799.7,1102.6 L760,1102.6" fill="none" stroke="#1e1e1e" stroke-width="1.4" />
<path d="M759,1053.5 L794,1053.5 Q797,1053.5 797,1056.5 L797,1061.5 L759,1061.5 Q754.6,1061.5 754.6,1058.5 Q754.6,1053.5 759,1053.5 Z" fill="#fff" stroke="#1e1e1e" stroke-width="1.6" />
<path d="M759,1106.8 L794,1106.8 Q797,1106.8 797,1109.8 L797,1114.8 L759,1114.8 Q754.6,1114.8 754.6,1111.8 Q754.6,1106.8 759,1106.8 Z" fill="#fff" stroke="#1e1e1e" stroke-width="1.6" />
<rect x="763.8" y="1044" width="15.4" height="83" fill="none" stroke="#1e1e1e" stroke-width="1.3" />
<line x1="771.5" y1="1044" x2="771.5" y2="1127" stroke="#555" stroke-width="0.9" />
<rect x="763.8" y="1053.5" width="15.4" height="8" fill="#fff" stroke="#1e1e1e" stroke-width="1.3" />
<rect x="763.8" y="1106.8" width="15.4" height="8" fill="#fff" stroke="#1e1e1e" stroke-width="1.3" />
<line x1="185.6" y1="141" x2="443.7" y2="141" stroke="#4c4c4c" stroke-width="1.3" />
<line x1="360.6" y1="136" x2="360.6" y2="244" stroke="#4c4c4c" stroke-width="1.1" />
<line x1="443.2" y1="136" x2="443.2" y2="244" stroke="#4c4c4c" stroke-width="1.1" />
<polygon points="360.6,141 381.6,137.7 379.9,141 381.6,144.3" fill="#111" stroke="none" stroke-width="1" />
<polygon points="443.2,141 422.2,144.3 423.9,141 422.2,137.7" fill="#111" stroke="none" stroke-width="1" />
<text x="197.9" y="134.7" font-size="26" fill="#444444" text-anchor="start" font-family="Liberation Sans" textLength="75.5" lengthAdjust="spacingAndGlyphs" >Ø76,4</text>
<text x="282.8" y="134.7" font-size="18" fill="#444444" text-anchor="start" font-family="Liberation Sans" textLength="35.7" lengthAdjust="spacingAndGlyphs" >±0,2</text>
<line x1="222.3" y1="244" x2="222.3" y2="738.6" stroke="#4c4c4c" stroke-width="1.3" />
<line x1="217" y1="244" x2="360" y2="244" stroke="#4c4c4c" stroke-width="1.1" />
<line x1="217" y1="738.6" x2="308" y2="738.6" stroke="#4c4c4c" stroke-width="1.1" />
<polygon points="222.3,244 225.6,265 222.3,263.3 219,265" fill="#111" stroke="none" stroke-width="1" />
<polygon points="222.3,738.6 219,717.6 222.3,719.3 225.6,717.6" fill="#111" stroke="none" stroke-width="1" />
<text x="218" y="548.7" font-size="26" fill="#444444" text-anchor="start" font-family="Liberation Sans" textLength="75" lengthAdjust="spacingAndGlyphs" transform="rotate(-90 218 548.7)" >454,8</text>
<text x="218" y="470.6" font-size="18" fill="#444444" text-anchor="start" font-family="Liberation Sans" textLength="30.6" lengthAdjust="spacingAndGlyphs" transform="rotate(-90 218 470.6)" >±0,5</text>
<line x1="710" y1="116.9" x2="933.6" y2="116.9" stroke="#4c4c4c" stroke-width="1.3" />
<line x1="875.5" y1="112" x2="875.5" y2="166" stroke="#4c4c4c" stroke-width="1.1" />
<line x1="895.6" y1="112" x2="895.6" y2="166" stroke="#4c4c4c" stroke-width="1.1" />
<polygon points="875.5,116.9 854.5,120.2 856.2,116.9 854.5,113.6" fill="#111" stroke="none" stroke-width="1" />
<polygon points="895.6,116.9 916.6,113.6 914.9,116.9 916.6,120.2" fill="#111" stroke="none" stroke-width="1" />
<text x="722.5" y="111.3" font-size="26" fill="#444444" text-anchor="start" font-family="Liberation Sans" textLength="54.7" lengthAdjust="spacingAndGlyphs" >Ø18</text>
<text x="785" y="111.3" font-size="18" fill="#444444" text-anchor="start" font-family="Liberation Sans" textLength="35.8" lengthAdjust="spacingAndGlyphs" >±0,2</text>
<line x1="700.6" y1="166" x2="700.6" y2="739" stroke="#4c4c4c" stroke-width="1.3" />
<line x1="694.5" y1="166" x2="875" y2="166" stroke="#4c4c4c" stroke-width="1.1" />
<line x1="695" y1="739" x2="839" y2="739" stroke="#4c4c4c" stroke-width="1.1" />
<polygon points="700.6,166 703.9,187 700.6,185.3 697.3,187" fill="#111" stroke="none" stroke-width="1" />
<polygon points="700.6,739 697.3,718 700.6,719.7 703.9,718" fill="#111" stroke="none" stroke-width="1" />
<text x="695.5" y="504.2" font-size="26" fill="#444444" text-anchor="start" font-family="Liberation Sans" textLength="64.8" lengthAdjust="spacingAndGlyphs" transform="rotate(-90 695.5 504.2)" >527,8</text>
<text x="695.5" y="428.7" font-size="18" fill="#444444" text-anchor="start" font-family="Liberation Sans" textLength="34.9" lengthAdjust="spacingAndGlyphs" transform="rotate(-90 695.5 428.7)" >±0,5</text>
<line x1="753" y1="792.4" x2="989" y2="792.4" stroke="#4c4c4c" stroke-width="1.3" />
<line x1="753" y1="564" x2="753" y2="798.6" stroke="#4c4c4c" stroke-width="1.1" />
<line x1="989" y1="583.9" x2="989" y2="798.6" stroke="#4c4c4c" stroke-width="1.1" />
<polygon points="753,792.4 774,789.1 772.3,792.4 774,795.7" fill="#111" stroke="none" stroke-width="1" />
<polygon points="989,792.4 968,795.7 969.7,792.4 968,789.1" fill="#111" stroke="none" stroke-width="1" />
<text x="834" y="787.4" font-size="26" fill="#444444" text-anchor="start" font-family="Liberation Sans" textLength="65.7" lengthAdjust="spacingAndGlyphs" >215,8</text>
<text x="907" y="787.4" font-size="18" fill="#444444" text-anchor="start" font-family="Liberation Sans" textLength="18.8" lengthAdjust="spacingAndGlyphs" >±1</text>
<line x1="604" y1="999.2" x2="815" y2="999.2" stroke="#4c4c4c" stroke-width="1.3" />
<line x1="764.9" y1="994" x2="764.9" y2="1040" stroke="#4c4c4c" stroke-width="1.1" />
<line x1="778.2" y1="994" x2="778.2" y2="1040" stroke="#4c4c4c" stroke-width="1.1" />
<polygon points="764.9,999.2 745.9,1002.5 747.4,999.2 745.9,995.9" fill="#111" stroke="none" stroke-width="1" />
<polygon points="778.2,999.2 797.2,995.9 795.7,999.2 797.2,1002.5" fill="#111" stroke="none" stroke-width="1" />
<text x="617.4" y="994" font-size="26" fill="#444444" text-anchor="start" font-family="Liberation Sans" textLength="46.1" lengthAdjust="spacingAndGlyphs" >12,5</text>
<text x="672.7" y="994" font-size="18" fill="#444444" text-anchor="start" font-family="Liberation Sans" textLength="37.9" lengthAdjust="spacingAndGlyphs" >±0,2</text>
<line x1="661.4" y1="1044.2" x2="661.4" y2="1233.6" stroke="#4c4c4c" stroke-width="1.3" />
<line x1="656.3" y1="1044.2" x2="758.7" y2="1044.2" stroke="#4c4c4c" stroke-width="1.1" />
<line x1="656.3" y1="1126" x2="758.7" y2="1126" stroke="#4c4c4c" stroke-width="1.1" />
<polygon points="661.4,1044.2 664.7,1065.2 661.4,1063.5 658.1,1065.2" fill="#111" stroke="none" stroke-width="1" />
<polygon points="661.4,1126 658.1,1105 661.4,1106.7 664.7,1105" fill="#111" stroke="none" stroke-width="1" />
<text x="656.3" y="1224.4" font-size="26" fill="#444444" text-anchor="start" font-family="Liberation Sans" textLength="28.7" lengthAdjust="spacingAndGlyphs" transform="rotate(-90 656.3 1224.4)" >75</text>
<text x="633.5" y="1188" font-size="15.5" fill="#444444" text-anchor="start" font-family="Liberation Sans" textLength="16.6" lengthAdjust="spacingAndGlyphs" transform="rotate(-90 633.5 1188)" >+1</text>
<text x="655.5" y="1178" font-size="15.5" fill="#444444" text-anchor="start" font-family="Liberation Sans" textLength="10" lengthAdjust="spacingAndGlyphs" transform="rotate(-90 655.5 1178)" >0</text>
<line x1="708.5" y1="1054.4" x2="708.5" y2="1240.8" stroke="#4c4c4c" stroke-width="1.3" />
<line x1="702.4" y1="1054.4" x2="748.5" y2="1054.4" stroke="#4c4c4c" stroke-width="1.1" />
<line x1="702.4" y1="1117" x2="748.5" y2="1117" stroke="#4c4c4c" stroke-width="1.1" />
<polygon points="708.5,1054.4 711.8,1075.4 708.5,1073.7 705.2,1075.4" fill="#111" stroke="none" stroke-width="1" />
<polygon points="708.5,1117 705.2,1096 708.5,1097.7 711.8,1096" fill="#111" stroke="none" stroke-width="1" />
<text x="702.4" y="1232.6" font-size="26" fill="#444444" text-anchor="start" font-family="Liberation Sans" textLength="26.6" lengthAdjust="spacingAndGlyphs" transform="rotate(-90 702.4 1232.6)" >56</text>
<text x="702.4" y="1195.7" font-size="18" fill="#444444" text-anchor="start" font-family="Liberation Sans" textLength="35.7" lengthAdjust="spacingAndGlyphs" transform="rotate(-90 702.4 1195.7)" >±0,3</text>
<line x1="812" y1="1266.4" x2="966.6" y2="1266.4" stroke="#4c4c4c" stroke-width="1.3" />
<line x1="812" y1="1085" x2="812" y2="1272" stroke="#4c4c4c" stroke-width="1.1" />
<line x1="966.6" y1="1139.4" x2="966.6" y2="1272" stroke="#4c4c4c" stroke-width="1.1" />
<polygon points="812,1266.4 833,1263.1 831.3,1266.4 833,1269.7" fill="#111" stroke="none" stroke-width="1" />
<polygon points="966.6,1266.4 945.6,1269.7 947.3,1266.4 945.6,1263.1" fill="#111" stroke="none" stroke-width="1" />
<text x="829.4" y="1259.2" font-size="26" fill="#444444" text-anchor="start" font-family="Liberation Sans" textLength="61.4" lengthAdjust="spacingAndGlyphs" >140,9</text>
<text x="901" y="1259.2" font-size="18" fill="#444444" text-anchor="start" font-family="Liberation Sans" textLength="35.9" lengthAdjust="spacingAndGlyphs" >±0,5</text>
<path d="M458,1046 L470,1040 L478,1048 L490,1056 L505,1060 L514,1068 L513,1078 L506,1082 L500,1093 L492,1092 L486,1082 L474,1072 L462,1064 Z" fill="#c49a86" stroke="#4a3025" stroke-width="1.2" />
<path d="M480,1058 L500,1066 M486,1070 L506,1074" fill="none" stroke="#7a5040" stroke-width="1.2" />
<polygon points="288,1212 291,1243 300,1256 378,1305 428,1323 446,1322 499,1294 505,1268 503,1250 480,1268 430,1287 385,1271 300,1226" fill="url(#base)" stroke="#2a2a2a" stroke-width="1.6" stroke-linejoin="round"/>
<line x1="385" y1="1272" x2="382" y2="1300" stroke="#444" stroke-width="1.2" />
<line x1="430" y1="1288" x2="430" y2="1320" stroke="#444" stroke-width="1.2" />
<line x1="470" y1="1278" x2="468" y2="1305" stroke="#444" stroke-width="1.2" />
<line x1="490" y1="1272" x2="490" y2="1296" stroke="#444" stroke-width="1.2" />
<line x1="300" y1="1228" x2="301" y2="1252" stroke="#444" stroke-width="1.2" />
<line x1="320" y1="1238" x2="322" y2="1265" stroke="#444" stroke-width="1.2" />
<line x1="345" y1="1252" x2="347" y2="1282" stroke="#444" stroke-width="1.2" />
<path d="M300,1245 Q330,1262 360,1280 Q380,1292 400,1296" fill="none" stroke="#666" stroke-width="1.2" />
<path d="M296,1236 Q330,1252 370,1272 M440,1310 Q470,1300 495,1282 M392,1290 L396,1315 M452,1300 L452,1318" fill="none" stroke="#555" stroke-width="1.1" />
<path d="M440,1300 Q460,1296 480,1286" fill="none" stroke="#888" stroke-width="1" />
<polygon points="293,1066 305,1052 333,1038 362,1036 460,1049 500,1111 509,1127 513,1150 516,1250 503,1271 482,1278 430,1294 386,1279 378,1279 305,1243 289,1226 289,1212 281,1203 283,1190 287.5,1186 288,1085" fill="url(#front)" stroke="#20223a" stroke-width="1.6" stroke-linejoin="round"/>
<polygon points="429.7,1149 503,1120 509,1127 513,1150 516,1250 503,1271 482,1278 430,1294" fill="#5a5c78" stroke="none" stroke-width="1" />
<polygon points="478,1134 503,1120 509,1127 513,1150 516,1250 503,1271 484,1275" fill="#5e607c" stroke="none" stroke-width="1" />
<polygon points="293,1066 305,1052 333,1038 362,1036 460,1049 500,1111 503,1120 430,1149 380,1124 295,1072" fill="#575972" stroke="none" stroke-width="1" />
<polygon points="408,1061 435.5,1055 478,1134 430,1149" fill="#5e607c" stroke="none" stroke-width="1" />
<path d="M295,1072 Q372,1122 428,1148 Q470,1133 504,1120" fill="none" stroke="#20223a" stroke-width="2.0" />
<path d="M408,1061 L429.7,1149 L428,1294" fill="none" stroke="#20223a" stroke-width="1.9" />
<path d="M435.5,1055 L478,1134 L483.6,1275" fill="none" stroke="#20223a" stroke-width="1.9" />
<path d="M289,1212 Q292,1222 305,1236" fill="none" stroke="#20223a" stroke-width="1.3" />
<polygon points="293,1066 305,1052 333,1038 362,1036 460,1049 500,1111 509,1127 513,1150 516,1250 503,1271 482,1278 430,1294 386,1279 378,1279 305,1243 289,1226 289,1212 281,1203 283,1190 287.5,1186 288,1085" fill="none" stroke="#20223a" stroke-width="2.1" stroke-linejoin="round"/>
<polygon points="318,1113 392,1148 385.5,1153 309.5,1118.5" fill="#8a8ca8" stroke="none" stroke-width="1" />
<polygon points="392,1148 386,1286 378,1290 385.5,1153" fill="#6d6f8c" stroke="none" stroke-width="1" />
<polygon points="309.5,1118.5 385.5,1153 378,1290 305,1250" fill="#a3a09c" stroke="#333" stroke-width="1.2" />
<polygon points="306,1222 379,1256 378,1290 305,1250" fill="#d9d9d9" stroke="#555" stroke-width="0.8" />
<text x="312" y="1134" font-size="11" fill="#222" text-anchor="start" font-family="Liberation Serif" font-weight="bold" textLength="42" lengthAdjust="spacingAndGlyphs" transform="rotate(26 312 1134)">ROCKET-1</text>
<circle cx="313" cy="1126" r="1.8" fill="#222" stroke="none" stroke-width="1.2" />
<circle cx="378" cy="1158" r="1.8" fill="#222" stroke="none" stroke-width="1.2" />
<circle cx="314" cy="1166" r="1.8" fill="#222" stroke="none" stroke-width="1.2" />
<circle cx="377" cy="1196" r="1.8" fill="#222" stroke="none" stroke-width="1.2" />
<circle cx="313" cy="1205" r="1.8" fill="#222" stroke="none" stroke-width="1.2" />
<circle cx="350" cy="1212" r="1.8" fill="#222" stroke="none" stroke-width="1.2" />
<circle cx="376" cy="1232" r="1.8" fill="#222" stroke="none" stroke-width="1.2" />
<circle cx="340" cy="1148" r="1.8" fill="#222" stroke="none" stroke-width="1.2" />
<line x1="312" y1="1235" x2="350" y2="1253" stroke="#888" stroke-width="0.9" />
<line x1="312" y1="1243" x2="340" y2="1256" stroke="#888" stroke-width="0.9" />
<line x1="350" y1="1262" x2="372" y2="1272" stroke="#888" stroke-width="0.9" />
<polygon points="304,1161 318,1154 328.5,1158 328.5,1216 320,1216 320,1167 304,1169" fill="#2b47aa" stroke="#1a2a60" stroke-width="1" />
<polygon points="306,1161 318,1155.5 326,1159 316,1164" fill="#5070d4" stroke="none" stroke-width="1" />
<polygon points="344,1191 360,1182 369.5,1187 369.5,1242 361.5,1242 361.5,1196 344,1199" fill="#d6ce44" stroke="#6a6420" stroke-width="1" />
<polygon points="346,1191 360,1183.5 367.5,1187.5 356,1193" fill="#eee880" stroke="none" stroke-width="1" />
<path d="M324.6,1030.4 A74.1,35.6 0 0 1 398.7,994.8 A74.2,12.2 0 0 1 472.9,1007 L472.9,1019.6 A74.2,35.8 0 0 1 398.7,1055.4 A74.1,12.4 0 0 1 324.6,1043 Z" fill="url(#ins)" stroke="#14172a" stroke-width="2.2" />
<path d="M324.6,1030.4 A74.1,12.4 0 0 0 398.7,1042.8 A74.2,35.8 0 0 0 472.9,1007" fill="none" stroke="#14172a" stroke-width="2.8" />
<path d="M324.6,1001.8 A74.1,35.6 0 0 1 398.7,966.2 A74.2,12.2 0 0 1 472.9,978.4 L472.9,991 A74.2,35.8 0 0 1 398.7,1026.8 A74.1,12.4 0 0 1 324.6,1014.4 Z" fill="url(#ins)" stroke="#14172a" stroke-width="2.2" />
<path d="M324.6,1001.8 A74.1,12.4 0 0 0 398.7,1014.2 A74.2,35.8 0 0 0 472.9,978.4" fill="none" stroke="#14172a" stroke-width="2.8" />
<path d="M324.6,973.2 A74.1,35.6 0 0 1 398.7,937.6 A74.2,12.2 0 0 1 472.9,949.8 L472.9,962.4 A74.2,35.8 0 0 1 398.7,998.2 A74.1,12.4 0 0 1 324.6,985.8 Z" fill="url(#ins)" stroke="#14172a" stroke-width="2.2" />
<path d="M324.6,973.2 A74.1,12.4 0 0 0 398.7,985.6 A74.2,35.8 0 0 0 472.9,949.8" fill="none" stroke="#14172a" stroke-width="2.8" />
<path d="M324.6,944.6 A74.1,35.6 0 0 1 398.7,909 A74.2,12.2 0 0 1 472.9,921.2 L472.9,933.8 A74.2,35.8 0 0 1 398.7,969.6 A74.1,12.4 0 0 1 324.6,957.2 Z" fill="url(#ins)" stroke="#14172a" stroke-width="2.2" />
<path d="M324.6,944.6 A74.1,12.4 0 0 0 398.7,957 A74.2,35.8 0 0 0 472.9,921.2" fill="none" stroke="#14172a" stroke-width="2.8" />
<path d="M324.6,916 A74.1,35.6 0 0 1 398.7,880.4 A74.2,12.2 0 0 1 472.9,892.6 L472.9,905.2 A74.2,35.8 0 0 1 398.7,941 A74.1,12.4 0 0 1 324.6,928.6 Z" fill="url(#ins)" stroke="#14172a" stroke-width="2.2" />
<path d="M324.6,916 A74.1,12.4 0 0 0 398.7,928.4 A74.2,35.8 0 0 0 472.9,892.6" fill="none" stroke="#14172a" stroke-width="2.8" />
<path d="M324.6,916 A80.4,67 0 0 1 405,849 A67.9,43.6 0 0 1 472.9,892.6 A74.2,35.8 0 0 1 398.7,928.4 A74.1,12.4 0 0 1 324.6,916 Z" fill="#74779a" stroke="#14172a" stroke-width="2.2" />
<g transform="rotate(-9 399 886)">
<ellipse cx="398" cy="887" rx="43" ry="26" fill="#6a6d8e" stroke="#1c1e32" stroke-width="2"/>
<ellipse cx="399" cy="884" rx="36" ry="20" fill="#74779a" stroke="#2a2c44" stroke-width="1.3"/>
<ellipse cx="400.5" cy="879" rx="30" ry="18" fill="#5e6182" stroke="#1c1e32" stroke-width="2"/>
<ellipse cx="400.5" cy="876" rx="23" ry="12" fill="#6a6d8e" stroke="#2a2c44" stroke-width="1.3"/>
</g>
<path d="M383.5,840 L383.5,864 Q399,872 415.2,864 L415.2,840 Z" fill="url(#gold)" stroke="#3a2c08" stroke-width="1.2" />
<ellipse cx="399.3" cy="840" rx="15.8" ry="4.5" fill="#b89430" stroke="#3a2c08" stroke-width="1"/>
<line x1="383.5" y1="850" x2="415.2" y2="850" stroke="#5a4510" stroke-width="1" />
<path d="M388.3,838 L388.3,805 Q398.7,797 409.1,805 L409.1,838 Z" fill="url(#gold)" stroke="#3a2c08" stroke-width="1.2" />
<ellipse cx="398.7" cy="804" rx="10.4" ry="3.8" fill="#e2c64c" stroke="#5a4510" stroke-width="0.8"/>
<rect x="402" y="817" width="5" height="13" fill="#3a2c08" stroke="none" stroke-width="1.2" />
<path d="M346,866 Q362,856 386,860 L396,868 L398,878 Q388,884 372,881 Q358,886 348,893 Z" fill="#c29c88" stroke="#3a2a22" stroke-width="1.4" />
<path d="M352,870 Q368,864 386,868 M356,878 Q370,874 386,876" fill="none" stroke="#7a5444" stroke-width="1.3" />
<ellipse cx="335" cy="880.6" rx="12.5" ry="20.5" transform="rotate(20 335 880.6)" fill="#7578a0" stroke="#3a2a22" stroke-width="4"/>
<ellipse cx="335" cy="880.6" rx="12.5" ry="20.5" transform="rotate(20 335 880.6)" fill="none" stroke="#b09070" stroke-width="1.1" stroke-dasharray="3,4"/>
<g transform="translate(1090.7,-16)">
<path d="M391.5,203 L391.5,170 Q391.5,166 396,166 L407.5,166 Q412,166 412,170 L412,203" fill="none" stroke="#1e1e1e" stroke-width="1.3" />
<line x1="391.5" y1="172" x2="412" y2="172" stroke="#555" stroke-width="1" />
<line x1="391.5" y1="180" x2="412" y2="180" stroke="#555" stroke-width="1" />
<path d="M389,205 L395,196 L408,196 L414,205 Z" fill="none" stroke="#1e1e1e" stroke-width="1.1" />
<path d="M392,212 L386,212 L387,222 L381,236 L377,243" fill="none" stroke="#1e1e1e" stroke-width="1.6" />
<path d="M411,212 L417,212 L416,222 L422,236 L426,243" fill="none" stroke="#1e1e1e" stroke-width="1.6" />
<path d="M394,214 L385,243 M409,214 L418,243" fill="none" stroke="#555" stroke-width="1.2" />
<path d="M386,213 L417,213" fill="none" stroke="#1e1e1e" stroke-width="1.4" />
<rect x="398.5" y="197" width="6.5" height="56" rx="2.5" fill="#444" stroke="#222" stroke-width="1" />
<path d="M360.6,268 L360.6,249 Q360.6,244 366,244 L437.8,244 Q443.2,244 443.2,249 L443.2,268" fill="none" stroke="#1e1e1e" stroke-width="1.5" />
<line x1="360.6" y1="253.5" x2="443.2" y2="253.5" stroke="#333" stroke-width="1.2" />
<rect x="359.5" y="274.2" width="84.7" height="2.4" fill="#a8a8a8" stroke="none" stroke-width="1.2" />
<line x1="359.5" y1="277.4" x2="444.2" y2="277.4" stroke="#444" stroke-width="1.4" />
<line x1="359.5" y1="282.6" x2="444.2" y2="282.6" stroke="#555" stroke-width="1.2" />
<rect x="359.5" y="283.8" width="84.7" height="3.8" fill="#9c9c9c" stroke="none" stroke-width="1.2" />
<line x1="359.5" y1="285.2" x2="444.2" y2="285.2" stroke="#7a7a7a" stroke-width="0.8" />
<rect x="359.5" y="291.6" width="84.7" height="2.4" fill="#a8a8a8" stroke="none" stroke-width="1.2" />
<line x1="359.5" y1="294.8" x2="444.2" y2="294.8" stroke="#444" stroke-width="1.4" />
<line x1="359.5" y1="300" x2="444.2" y2="300" stroke="#555" stroke-width="1.2" />
<rect x="359.5" y="301.2" width="84.7" height="3.8" fill="#9c9c9c" stroke="none" stroke-width="1.2" />
<line x1="359.5" y1="302.6" x2="444.2" y2="302.6" stroke="#7a7a7a" stroke-width="0.8" />
<rect x="359.5" y="309" width="84.7" height="2.4" fill="#a8a8a8" stroke="none" stroke-width="1.2" />
<line x1="359.5" y1="312.2" x2="444.2" y2="312.2" stroke="#444" stroke-width="1.4" />
<line x1="359.5" y1="317.4" x2="444.2" y2="317.4" stroke="#555" stroke-width="1.2" />
<rect x="359.5" y="318.6" width="84.7" height="3.8" fill="#9c9c9c" stroke="none" stroke-width="1.2" />
<line x1="359.5" y1="320" x2="444.2" y2="320" stroke="#7a7a7a" stroke-width="0.8" />
<rect x="359.5" y="326.4" width="84.7" height="2.4" fill="#a8a8a8" stroke="none" stroke-width="1.2" />
<line x1="359.5" y1="329.6" x2="444.2" y2="329.6" stroke="#444" stroke-width="1.4" />
<line x1="359.5" y1="334.8" x2="444.2" y2="334.8" stroke="#555" stroke-width="1.2" />
<rect x="359.5" y="336" width="84.7" height="3.8" fill="#9c9c9c" stroke="none" stroke-width="1.2" />
<line x1="359.5" y1="337.4" x2="444.2" y2="337.4" stroke="#7a7a7a" stroke-width="0.8" />
<rect x="359.5" y="343.8" width="84.7" height="2.4" fill="#a8a8a8" stroke="none" stroke-width="1.2" />
<line x1="359.5" y1="347" x2="444.2" y2="347" stroke="#444" stroke-width="1.4" />
<line x1="359.5" y1="352.2" x2="444.2" y2="352.2" stroke="#555" stroke-width="1.2" />
<rect x="359.5" y="353.4" width="84.7" height="3.8" fill="#9c9c9c" stroke="none" stroke-width="1.2" />
<line x1="359.5" y1="354.8" x2="444.2" y2="354.8" stroke="#7a7a7a" stroke-width="0.8" />
<rect x="359.5" y="361.2" width="84.7" height="2.4" fill="#a8a8a8" stroke="none" stroke-width="1.2" />
<line x1="359.5" y1="364.4" x2="444.2" y2="364.4" stroke="#444" stroke-width="1.4" />
<line x1="359.5" y1="369.6" x2="444.2" y2="369.6" stroke="#555" stroke-width="1.2" />
<rect x="359.5" y="370.8" width="84.7" height="3.8" fill="#9c9c9c" stroke="none" stroke-width="1.2" />
<line x1="359.5" y1="372.2" x2="444.2" y2="372.2" stroke="#7a7a7a" stroke-width="0.8" />
<rect x="359.5" y="378.6" width="84.7" height="2.4" fill="#a8a8a8" stroke="none" stroke-width="1.2" />
<line x1="359.5" y1="381.8" x2="444.2" y2="381.8" stroke="#444" stroke-width="1.4" />
<line x1="359.5" y1="387" x2="444.2" y2="387" stroke="#555" stroke-width="1.2" />
<rect x="359.5" y="388.2" width="84.7" height="3.8" fill="#9c9c9c" stroke="none" stroke-width="1.2" />
<line x1="359.5" y1="389.6" x2="444.2" y2="389.6" stroke="#7a7a7a" stroke-width="0.8" />
<rect x="359.5" y="396" width="84.7" height="2.4" fill="#a8a8a8" stroke="none" stroke-width="1.2" />
<line x1="359.5" y1="399.2" x2="444.2" y2="399.2" stroke="#444" stroke-width="1.4" />
<line x1="359.5" y1="404.4" x2="444.2" y2="404.4" stroke="#555" stroke-width="1.2" />
<rect x="359.5" y="405.6" width="84.7" height="3.8" fill="#9c9c9c" stroke="none" stroke-width="1.2" />
<line x1="359.5" y1="407" x2="444.2" y2="407" stroke="#7a7a7a" stroke-width="0.8" />
<rect x="359.5" y="413.4" width="84.7" height="2.4" fill="#a8a8a8" stroke="none" stroke-width="1.2" />
<line x1="359.5" y1="416.6" x2="444.2" y2="416.6" stroke="#444" stroke-width="1.4" />
<line x1="359.5" y1="421.8" x2="444.2" y2="421.8" stroke="#555" stroke-width="1.2" />
<rect x="359.5" y="423" width="84.7" height="3.8" fill="#9c9c9c" stroke="none" stroke-width="1.2" />
<line x1="359.5" y1="424.4" x2="444.2" y2="424.4" stroke="#7a7a7a" stroke-width="0.8" />
<rect x="359.5" y="430.8" width="84.7" height="2.4" fill="#a8a8a8" stroke="none" stroke-width="1.2" />
<line x1="359.5" y1="434" x2="444.2" y2="434" stroke="#444" stroke-width="1.4" />
<line x1="359.5" y1="439.2" x2="444.2" y2="439.2" stroke="#555" stroke-width="1.2" />
<rect x="359.5" y="440.4" width="84.7" height="3.8" fill="#9c9c9c" stroke="none" stroke-width="1.2" />
<line x1="359.5" y1="441.8" x2="444.2" y2="441.8" stroke="#7a7a7a" stroke-width="0.8" />
<line x1="358.8" y1="262" x2="358.8" y2="437" stroke="#1e1e1e" stroke-width="1.6" />
<line x1="444.8" y1="262" x2="444.8" y2="437" stroke="#1e1e1e" stroke-width="1.6" />
<polygon points="330,271.2 354,270.6 450,270.6 474,271.2 474,272.8 450,273.4 354,273.4 330,272.8" fill="#111" stroke="#111" stroke-width="1" stroke-linejoin="round"/>
<polygon points="335.2,288.6 354,288 450,288 468.8,288.6 468.8,290.2 450,290.8 354,290.8 335.2,290.2" fill="#111" stroke="#111" stroke-width="1" stroke-linejoin="round"/>
<polygon points="329.3,306 354,305.4 450,305.4 474.7,306 474.7,307.6 450,308.2 354,308.2 329.3,307.6" fill="#111" stroke="#111" stroke-width="1" stroke-linejoin="round"/>
<polygon points="334.6,323.4 354,322.8 450,322.8 469.4,323.4 469.4,325 450,325.6 354,325.6 334.6,325" fill="#111" stroke="#111" stroke-width="1" stroke-linejoin="round"/>
<polygon points="328.6,340.8 354,340.2 450,340.2 475.4,340.8 475.4,342.4 450,343 354,343 328.6,342.4" fill="#111" stroke="#111" stroke-width="1" stroke-linejoin="round"/>
<polygon points="334,358.2 354,357.6 450,357.6 470,358.2 470,359.8 450,360.4 354,360.4 334,359.8" fill="#111" stroke="#111" stroke-width="1" stroke-linejoin="round"/>
<polygon points="327.9,375.6 354,375 450,375 476.1,375.6 476.1,377.2 450,377.8 354,377.8 327.9,377.2" fill="#111" stroke="#111" stroke-width="1" stroke-linejoin="round"/>
<polygon points="333.4,393 354,392.4 450,392.4 470.6,393 470.6,394.6 450,395.2 354,395.2 333.4,394.6" fill="#111" stroke="#111" stroke-width="1" stroke-linejoin="round"/>
<polygon points="327.2,410.4 354,409.8 450,409.8 476.8,410.4 476.8,412 450,412.6 354,412.6 327.2,412" fill="#111" stroke="#111" stroke-width="1" stroke-linejoin="round"/>
<polygon points="332.8,427.8 354,427.2 450,427.2 471.2,427.8 471.2,429.4 450,430 354,430 332.8,429.4" fill="#111" stroke="#111" stroke-width="1" stroke-linejoin="round"/>
<rect x="352" y="433.5" width="100" height="8" rx="4" fill="#151515" stroke="#111" stroke-width="1" />
<path d="M355,441 C352,452 349,458 344,464 L290,517" fill="none" stroke="#1e1e1e" stroke-width="1.6" />
<path d="M362,442 C360,452 357,459 353,465 L304.5,518" fill="none" stroke="#1e1e1e" stroke-width="1.4" />
<path d="M449,441 C452,452 455,458 460,464 L513,517" fill="none" stroke="#1e1e1e" stroke-width="1.6" />
<path d="M442,442 C444,452 447,459 451,465 L498.6,518" fill="none" stroke="#1e1e1e" stroke-width="1.4" />
<line x1="297" y1="517.5" x2="506" y2="517.5" stroke="#1e1e1e" stroke-width="1.6" />
<path d="M291,517 Q287,521 286.6,530 L286.6,659 L279.5,685 L279.5,689.4" fill="none" stroke="#1e1e1e" stroke-width="1.6" />
<path d="M513,517 Q517,521 517.6,530 L517.6,659 L524.7,685 L524.7,689.4" fill="none" stroke="#1e1e1e" stroke-width="1.6" />
<line x1="304.5" y1="518" x2="304.5" y2="659.5" stroke="#333" stroke-width="1.3" />
<line x1="498.6" y1="518" x2="498.6" y2="659.5" stroke="#333" stroke-width="1.3" />
<path d="M286.6,659 L292,659 L296,667 M302,659.5 L354,659.5 M296,667 L302,659.5" fill="none" stroke="#333" stroke-width="1.3" />
<path d="M517.6,659 L512,659 L508,667 M502,659.5 L449,659.5 M508,667 L502,659.5" fill="none" stroke="#333" stroke-width="1.3" />
<line x1="284" y1="667.4" x2="520.5" y2="667.4" stroke="#444" stroke-width="1.2" />
<line x1="282.5" y1="673.7" x2="522" y2="673.7" stroke="#444" stroke-width="1.2" />
<line x1="280" y1="684.3" x2="524.5" y2="684.3" stroke="#222" stroke-width="1.6" />
<path d="M279.5,687 Q279.5,690 283,690 L521,690 Q524.7,690 524.7,687" fill="none" stroke="#111" stroke-width="2.6" />
<line x1="304.3" y1="659.5" x2="304.3" y2="689" stroke="#555" stroke-width="1.0" />
<line x1="343" y1="659.5" x2="343" y2="689" stroke="#555" stroke-width="1.0" />
<line x1="460.1" y1="659.5" x2="460.1" y2="689" stroke="#555" stroke-width="1.0" />
<line x1="498.8" y1="659.5" x2="498.8" y2="689" stroke="#555" stroke-width="1.0" />
<path d="M289.9,690 L289.9,730 Q289.9,733.7 294,733.7 L510,733.7 Q514.7,733.7 514.7,730 L514.7,690" fill="none" stroke="#1e1e1e" stroke-width="1.5" />
<line x1="289.9" y1="729.5" x2="514.7" y2="729.5" stroke="#555" stroke-width="1" />
<line x1="307.9" y1="690" x2="307.9" y2="733" stroke="#333" stroke-width="1.1" />
<line x1="344.8" y1="690" x2="344.8" y2="733" stroke="#333" stroke-width="1.1" />
<line x1="359.3" y1="690" x2="359.3" y2="733" stroke="#333" stroke-width="1.1" />
<line x1="443.8" y1="690" x2="443.8" y2="733" stroke="#333" stroke-width="1.1" />
<line x1="460.1" y1="690" x2="460.1" y2="733" stroke="#333" stroke-width="1.1" />
<line x1="495.1" y1="690" x2="495.1" y2="733" stroke="#333" stroke-width="1.1" />
<path d="M306,733.7 Q311,739 316,733.7" fill="none" stroke="#555" stroke-width="1" />
<path d="M339,733.7 Q344,739 349,733.7" fill="none" stroke="#555" stroke-width="1" />
<path d="M455,733.7 Q460,739 465,733.7" fill="none" stroke="#555" stroke-width="1" />
<path d="M487,733.7 Q492,739 497,733.7" fill="none" stroke="#555" stroke-width="1" />
<path d="M354,689 L354,540 Q354,535 359,535 L444,535 Q449,535 449,540 L449,689" fill="#fff" stroke="#1e1e1e" stroke-width="1.6" />
<line x1="354" y1="652" x2="449" y2="652" stroke="#222" stroke-width="1.4" />
<text x="402" y="563.5" font-size="13.5" fill="#111" text-anchor="middle" font-family="Liberation Serif" font-weight="bold" textLength="75" lengthAdjust="spacingAndGlyphs" stroke="#111" stroke-width="0.5">ROCKET-1</text>
<rect x="365.7" y="573" width="14.8" height="78" fill="#fff" stroke="#111" stroke-width="2.2" />
<line x1="377.2" y1="592" x2="377.2" y2="650" stroke="#666" stroke-width="1" />
<rect x="366.2" y="575" width="13.8" height="17" fill="#3a3a3a" stroke="#111" stroke-width="1.5" />
<line x1="370.2" y1="578.5" x2="370.2" y2="588.5" stroke="#ddd" stroke-width="1.3" />
<line x1="376" y1="578.5" x2="376" y2="588.5" stroke="#ddd" stroke-width="1.3" />
<line x1="370.2" y1="583.5" x2="376" y2="583.5" stroke="#ddd" stroke-width="1.2" />
<rect x="422.7" y="573" width="14.8" height="78" fill="#fff" stroke="#111" stroke-width="2.2" />
<line x1="434.2" y1="592" x2="434.2" y2="650" stroke="#666" stroke-width="1" />
<rect x="423.2" y="575" width="13.8" height="17" fill="#3a3a3a" stroke="#111" stroke-width="1.5" />
<line x1="427.2" y1="578.5" x2="427.2" y2="588.5" stroke="#ddd" stroke-width="1.3" />
<line x1="433" y1="578.5" x2="433" y2="588.5" stroke="#ddd" stroke-width="1.3" />
<line x1="427.2" y1="583.5" x2="433" y2="583.5" stroke="#ddd" stroke-width="1.2" />
<circle cx="359.4" cy="539.5" r="3.4" fill="#111" stroke="none" stroke-width="1.2" />
<circle cx="401.6" cy="539.5" r="3.4" fill="#111" stroke="none" stroke-width="1.2" />
<circle cx="443.8" cy="539.5" r="3.4" fill="#111" stroke="none" stroke-width="1.2" />
<circle cx="359.4" cy="573" r="3.4" fill="#111" stroke="none" stroke-width="1.2" />
<circle cx="401.6" cy="573" r="3.4" fill="#111" stroke="none" stroke-width="1.2" />
<circle cx="443.8" cy="573" r="3.4" fill="#111" stroke="none" stroke-width="1.2" />
<circle cx="359.4" cy="605.7" r="3.4" fill="#111" stroke="none" stroke-width="1.2" />
<circle cx="401.6" cy="605.7" r="3.4" fill="#111" stroke="none" stroke-width="1.2" />
<circle cx="443.8" cy="605.7" r="3.4" fill="#111" stroke="none" stroke-width="1.2" />
<circle cx="359.4" cy="638.4" r="3.4" fill="#111" stroke="none" stroke-width="1.2" />
<circle cx="401.6" cy="638.4" r="3.4" fill="#111" stroke="none" stroke-width="1.2" />
<circle cx="443.8" cy="638.4" r="3.4" fill="#111" stroke="none" stroke-width="1.2" />
<circle cx="359.4" cy="671" r="3.4" fill="#111" stroke="none" stroke-width="1.2" />
<circle cx="443.8" cy="671" r="3.4" fill="#111" stroke="none" stroke-width="1.2" />
</g>
<g transform="translate(1060,-16)">
<path d="M875.5,204 L875.5,170 Q875.5,166 880,166 L891,166 Q895.6,166 895.6,170 L895.6,204" fill="none" stroke="#1e1e1e" stroke-width="1.3" />
<line x1="875.5" y1="171.5" x2="895.6" y2="171.5" stroke="#555" stroke-width="1" />
<rect x="880.5" y="183" width="9" height="11" fill="none" stroke="#1e1e1e" stroke-width="1.5" />
<rect x="872" y="204" width="27" height="9" fill="none" stroke="#1e1e1e" stroke-width="1.3" />
<rect x="868.8" y="213" width="33.5" height="21.5" fill="none" stroke="#1e1e1e" stroke-width="1.4" />
<rect x="877" y="218.5" width="18" height="10.5" fill="none" stroke="#1e1e1e" stroke-width="1.5" />
<path d="M899,237 L954,205 M906,244 Q930,233 946,232 Q953,231 958,228" fill="none" stroke="#333" stroke-width="1.5" />
<path d="M901,239 L954,209" fill="none" stroke="#777" stroke-width="1" />
<circle cx="972.7" cy="219.7" r="18.3" fill="#fff" stroke="#333" stroke-width="5.2" />
<circle cx="972.7" cy="219.7" r="18.3" fill="none" stroke="#ddd" stroke-width="1.3" stroke-dasharray="2,6"/>
<rect x="861" y="235.5" width="42.5" height="8" rx="2" fill="#262626" stroke="#111" stroke-width="1" />
<path d="M843,268 L843,252 Q843,245.4 850,245.4 L921,245.4 Q928,245.4 928,252 L928,268" fill="none" stroke="#1e1e1e" stroke-width="1.5" />
<line x1="843" y1="254" x2="928" y2="254" stroke="#333" stroke-width="1.2" />
<rect x="842.5" y="274.2" width="85" height="2.4" fill="#a8a8a8" stroke="none" stroke-width="1.2" />
<line x1="842.5" y1="277.4" x2="927.5" y2="277.4" stroke="#444" stroke-width="1.4" />
<line x1="842.5" y1="282.6" x2="927.5" y2="282.6" stroke="#555" stroke-width="1.2" />
<rect x="842.5" y="283.8" width="85" height="3.8" fill="#9c9c9c" stroke="none" stroke-width="1.2" />
<line x1="842.5" y1="285.2" x2="927.5" y2="285.2" stroke="#7a7a7a" stroke-width="0.8" />
<rect x="842.5" y="291.6" width="85" height="2.4" fill="#a8a8a8" stroke="none" stroke-width="1.2" />
<line x1="842.5" y1="294.8" x2="927.5" y2="294.8" stroke="#444" stroke-width="1.4" />
<line x1="842.5" y1="300" x2="927.5" y2="300" stroke="#555" stroke-width="1.2" />
<rect x="842.5" y="301.2" width="85" height="3.8" fill="#9c9c9c" stroke="none" stroke-width="1.2" />
<line x1="842.5" y1="302.6" x2="927.5" y2="302.6" stroke="#7a7a7a" stroke-width="0.8" />
<rect x="842.5" y="309" width="85" height="2.4" fill="#a8a8a8" stroke="none" stroke-width="1.2" />
<line x1="842.5" y1="312.2" x2="927.5" y2="312.2" stroke="#444" stroke-width="1.4" />
<line x1="842.5" y1="317.4" x2="927.5" y2="317.4" stroke="#555" stroke-width="1.2" />
<rect x="842.5" y="318.6" width="85" height="3.8" fill="#9c9c9c" stroke="none" stroke-width="1.2" />
<line x1="842.5" y1="320" x2="927.5" y2="320" stroke="#7a7a7a" stroke-width="0.8" />
<rect x="842.5" y="326.4" width="85" height="2.4" fill="#a8a8a8" stroke="none" stroke-width="1.2" />
<line x1="842.5" y1="329.6" x2="927.5" y2="329.6" stroke="#444" stroke-width="1.4" />
<line x1="842.5" y1="334.8" x2="927.5" y2="334.8" stroke="#555" stroke-width="1.2" />
<rect x="842.5" y="336" width="85" height="3.8" fill="#9c9c9c" stroke="none" stroke-width="1.2" />
<line x1="842.5" y1="337.4" x2="927.5" y2="337.4" stroke="#7a7a7a" stroke-width="0.8" />
<rect x="842.5" y="343.8" width="85" height="2.4" fill="#a8a8a8" stroke="none" stroke-width="1.2" />
<line x1="842.5" y1="347" x2="927.5" y2="347" stroke="#444" stroke-width="1.4" />
<line x1="842.5" y1="352.2" x2="927.5" y2="352.2" stroke="#555" stroke-width="1.2" />
<rect x="842.5" y="353.4" width="85" height="3.8" fill="#9c9c9c" stroke="none" stroke-width="1.2" />
<line x1="842.5" y1="354.8" x2="927.5" y2="354.8" stroke="#7a7a7a" stroke-width="0.8" />
<rect x="842.5" y="361.2" width="85" height="2.4" fill="#a8a8a8" stroke="none" stroke-width="1.2" />
<line x1="842.5" y1="364.4" x2="927.5" y2="364.4" stroke="#444" stroke-width="1.4" />
<line x1="842.5" y1="369.6" x2="927.5" y2="369.6" stroke="#555" stroke-width="1.2" />
<rect x="842.5" y="370.8" width="85" height="3.8" fill="#9c9c9c" stroke="none" stroke-width="1.2" />
<line x1="842.5" y1="372.2" x2="927.5" y2="372.2" stroke="#7a7a7a" stroke-width="0.8" />
<rect x="842.5" y="378.6" width="85" height="2.4" fill="#a8a8a8" stroke="none" stroke-width="1.2" />
<line x1="842.5" y1="381.8" x2="927.5" y2="381.8" stroke="#444" stroke-width="1.4" />
<line x1="842.5" y1="387" x2="927.5" y2="387" stroke="#555" stroke-width="1.2" />
<rect x="842.5" y="388.2" width="85" height="3.8" fill="#9c9c9c" stroke="none" stroke-width="1.2" />
<line x1="842.5" y1="389.6" x2="927.5" y2="389.6" stroke="#7a7a7a" stroke-width="0.8" />
<rect x="842.5" y="396" width="85" height="2.4" fill="#a8a8a8" stroke="none" stroke-width="1.2" />
<line x1="842.5" y1="399.2" x2="927.5" y2="399.2" stroke="#444" stroke-width="1.4" />
<line x1="842.5" y1="404.4" x2="927.5" y2="404.4" stroke="#555" stroke-width="1.2" />
<rect x="842.5" y="405.6" width="85" height="3.8" fill="#9c9c9c" stroke="none" stroke-width="1.2" />
<line x1="842.5" y1="407" x2="927.5" y2="407" stroke="#7a7a7a" stroke-width="0.8" />
<rect x="842.5" y="413.4" width="85" height="2.4" fill="#a8a8a8" stroke="none" stroke-width="1.2" />
<line x1="842.5" y1="416.6" x2="927.5" y2="416.6" stroke="#444" stroke-width="1.4" />
<line x1="842.5" y1="421.8" x2="927.5" y2="421.8" stroke="#555" stroke-width="1.2" />
<rect x="842.5" y="423" width="85" height="3.8" fill="#9c9c9c" stroke="none" stroke-width="1.2" />
<line x1="842.5" y1="424.4" x2="927.5" y2="424.4" stroke="#7a7a7a" stroke-width="0.8" />
<rect x="842.5" y="430.8" width="85" height="2.4" fill="#a8a8a8" stroke="none" stroke-width="1.2" />
<line x1="842.5" y1="434" x2="927.5" y2="434" stroke="#444" stroke-width="1.4" />
<line x1="842.5" y1="439.2" x2="927.5" y2="439.2" stroke="#555" stroke-width="1.2" />
<rect x="842.5" y="440.4" width="85" height="3.8" fill="#9c9c9c" stroke="none" stroke-width="1.2" />
<line x1="842.5" y1="441.8" x2="927.5" y2="441.8" stroke="#7a7a7a" stroke-width="0.8" />
<line x1="842" y1="262" x2="842" y2="437" stroke="#1e1e1e" stroke-width="1.6" />
<line x1="928" y1="262" x2="928" y2="437" stroke="#1e1e1e" stroke-width="1.6" />
<polygon points="813.5,271.2 837.5,270.6 933.5,270.6 957.5,271.2 957.5,272.8 933.5,273.4 837.5,273.4 813.5,272.8" fill="#111" stroke="#111" stroke-width="1" stroke-linejoin="round"/>
<polygon points="818.7,288.6 837.5,288 933.5,288 952.3,288.6 952.3,290.2 933.5,290.8 837.5,290.8 818.7,290.2" fill="#111" stroke="#111" stroke-width="1" stroke-linejoin="round"/>
<polygon points="812.8,306 837.5,305.4 933.5,305.4 958.2,306 958.2,307.6 933.5,308.2 837.5,308.2 812.8,307.6" fill="#111" stroke="#111" stroke-width="1" stroke-linejoin="round"/>
<polygon points="818.1,323.4 837.5,322.8 933.5,322.8 952.9,323.4 952.9,325 933.5,325.6 837.5,325.6 818.1,325" fill="#111" stroke="#111" stroke-width="1" stroke-linejoin="round"/>
<polygon points="812.1,340.8 837.5,340.2 933.5,340.2 958.9,340.8 958.9,342.4 933.5,343 837.5,343 812.1,342.4" fill="#111" stroke="#111" stroke-width="1" stroke-linejoin="round"/>
<polygon points="817.5,358.2 837.5,357.6 933.5,357.6 953.5,358.2 953.5,359.8 933.5,360.4 837.5,360.4 817.5,359.8" fill="#111" stroke="#111" stroke-width="1" stroke-linejoin="round"/>
<polygon points="811.4,375.6 837.5,375 933.5,375 959.6,375.6 959.6,377.2 933.5,377.8 837.5,377.8 811.4,377.2" fill="#111" stroke="#111" stroke-width="1" stroke-linejoin="round"/>
<polygon points="816.9,393 837.5,392.4 933.5,392.4 954.1,393 954.1,394.6 933.5,395.2 837.5,395.2 816.9,394.6" fill="#111" stroke="#111" stroke-width="1" stroke-linejoin="round"/>
<polygon points="810.7,410.4 837.5,409.8 933.5,409.8 960.3,410.4 960.3,412 933.5,412.6 837.5,412.6 810.7,412" fill="#111" stroke="#111" stroke-width="1" stroke-linejoin="round"/>
<polygon points="816.3,427.8 837.5,427.2 933.5,427.2 954.7,427.8 954.7,429.4 933.5,430 837.5,430 816.3,429.4" fill="#111" stroke="#111" stroke-width="1" stroke-linejoin="round"/>
<rect x="835" y="433.5" width="100.7" height="8" rx="4" fill="#151515" stroke="#111" stroke-width="1" />
<line x1="838.9" y1="441" x2="821.5" y2="515.6" stroke="#1e1e1e" stroke-width="1.5" />
<line x1="861.2" y1="442.3" x2="835.2" y2="516.8" stroke="#333" stroke-width="1.3" stroke-dasharray="7,3"/>
<line x1="910.9" y1="442.3" x2="935.7" y2="516.8" stroke="#1e1e1e" stroke-width="1.5" />
<line x1="930.7" y1="441" x2="948.1" y2="519.3" stroke="#333" stroke-width="1.3" stroke-dasharray="7,3"/>
<line x1="886" y1="442" x2="886" y2="735" stroke="#333" stroke-width="1.3" />
<line x1="821.5" y1="518" x2="948" y2="518" stroke="#1e1e1e" stroke-width="1.5" />
<path d="M950.6,535.4 L965.5,535.4 L965.5,688 L950.6,688" fill="none" stroke="#1e1e1e" stroke-width="1.4" />
<line x1="955" y1="535.4" x2="955" y2="688" stroke="#777" stroke-width="0.9" />
<path d="M965.5,572.7 L982,572.7 Q989,572.7 989,580.7 Q989,588.8 982,588.8 L965.5,588.8" fill="none" stroke="#1e1e1e" stroke-width="1.4" />
<line x1="968" y1="580.7" x2="985" y2="580.7" stroke="#777" stroke-width="0.9" />
<path d="M821.5,518 L821.5,659.3 L813.5,684.5 L813.5,689.2" fill="none" stroke="#1e1e1e" stroke-width="1.6" />
<path d="M832.7,522 Q831.5,526 831.5,535 L831.5,659.3" fill="none" stroke="#333" stroke-width="1.3" />
<line x1="939" y1="522" x2="939" y2="659.3" stroke="#333" stroke-width="1.3" />
<path d="M949.4,518 L949.4,659.3 L956.5,684.5 L956.5,689.2" fill="none" stroke="#1e1e1e" stroke-width="1.6" />
<path d="M821.5,659.3 L831.5,659.3 L833,667 L842,667 L848.7,659.3 L923.4,659.3 L928,667 L937,667 L939,659.3 L949.4,659.3" fill="none" stroke="#333" stroke-width="1.4" />
<line x1="816" y1="667.3" x2="955" y2="667.3" stroke="#333" stroke-width="1.2" />
<line x1="815" y1="674" x2="956" y2="674" stroke="#444" stroke-width="1.1" />
<line x1="813.5" y1="684.3" x2="956.5" y2="684.3" stroke="#222" stroke-width="1.5" />
<line x1="813" y1="689.2" x2="957" y2="689.2" stroke="#111" stroke-width="2.6" />
<line x1="850.5" y1="667" x2="850.5" y2="689" stroke="#555" stroke-width="1.0" />
<line x1="920.3" y1="667" x2="920.3" y2="689" stroke="#555" stroke-width="1.0" />
<path d="M824.2,690 L824.2,730 Q824.2,734 828,734 L942,734 Q945.8,734 945.8,730 L945.8,690" fill="none" stroke="#1e1e1e" stroke-width="1.5" />
<line x1="824.2" y1="729" x2="945.8" y2="729" stroke="#555" stroke-width="1" />
<line x1="832.6" y1="690" x2="832.6" y2="733" stroke="#333" stroke-width="1.2" />
<line x1="852.8" y1="690" x2="852.8" y2="733" stroke="#333" stroke-width="1.2" />
<line x1="918" y1="690" x2="918" y2="733" stroke="#333" stroke-width="1.2" />
<line x1="937.3" y1="690" x2="937.3" y2="733" stroke="#333" stroke-width="1.2" />
<path d="M841,734 Q846,739 851,734" fill="none" stroke="#555" stroke-width="1" />
<path d="M919,734 Q924,739 929,734" fill="none" stroke="#555" stroke-width="1" />
<rect x="813" y="503.6" width="8.4" height="84.4" fill="#fff" stroke="#1e1e1e" stroke-width="1.4" />
<rect x="800.3" y="540.5" width="12.7" height="32.8" fill="#fff" stroke="#1e1e1e" stroke-width="1.3" />
<path d="M789.8,441.3 Q812,441 816,470 L821.4,504.7" fill="none" stroke="#1e1e1e" stroke-width="1.6" />
<path d="M783,473 Q800,500 806.6,542.6" fill="none" stroke="#1e1e1e" stroke-width="1.6" />
<path d="M776,444 L788,441 L800,446 L801.4,458 L790,470 L777,475 Q760,471 757,456 Q758,446 766,443 Z" fill="#fff" stroke="#1e1e1e" stroke-width="1.6" />
<path d="M787,447 Q797,450 799,460" fill="none" stroke="#555" stroke-width="3" />
<circle cx="775" cy="466.7" r="6" fill="#fff" stroke="#111" stroke-width="2.4" />
</g>
<path d="M1392,1030 Q1440,1013.5 1492.8,1013.5 Q1545,1013.5 1594,1030 Q1614.3,1038 1614.3,1058 L1614.3,1118 Q1614.3,1138 1594,1143 Q1545,1158.7 1492.8,1158.7 Q1440,1158.7 1392,1143 Q1369.6,1138 1369.6,1118 L1369.6,1058 Q1369.6,1038 1392,1030 Z" fill="none" stroke="#1e1e1e" stroke-width="1.8" />
<path d="M1395,1041 Q1440,1025 1492.8,1025 Q1545,1025 1590,1041 Q1603,1046 1603,1062 L1603,1112 Q1603,1128 1590,1132 Q1545,1147 1492.8,1147 Q1440,1147 1395,1132 Q1382,1128 1382,1112 L1382,1062 Q1382,1046 1395,1041 Z" fill="none" stroke="#333" stroke-width="1.4" />
<line x1="1382" y1="1041" x2="1388" y2="1031" stroke="#333" stroke-width="1.6" />
<line x1="1382" y1="1142" x2="1388" y2="1132" stroke="#333" stroke-width="1.6" />
<line x1="1389.4" y1="1039.3" x2="1395.4" y2="1029.3" stroke="#333" stroke-width="1.6" />
<line x1="1389.4" y1="1143.7" x2="1395.4" y2="1133.7" stroke="#333" stroke-width="1.6" />
<line x1="1396.8" y1="1037.6" x2="1402.8" y2="1027.6" stroke="#333" stroke-width="1.6" />
<line x1="1396.8" y1="1145.4" x2="1402.8" y2="1135.4" stroke="#333" stroke-width="1.6" />
<line x1="1404.2" y1="1035.9" x2="1410.2" y2="1025.9" stroke="#333" stroke-width="1.6" />
<line x1="1404.2" y1="1147.1" x2="1410.2" y2="1137.1" stroke="#333" stroke-width="1.6" />
<line x1="1411.7" y1="1034.3" x2="1417.7" y2="1024.3" stroke="#333" stroke-width="1.6" />
<line x1="1411.7" y1="1148.7" x2="1417.7" y2="1138.7" stroke="#333" stroke-width="1.6" />
<line x1="1419.1" y1="1032.8" x2="1425.1" y2="1022.8" stroke="#333" stroke-width="1.6" />
<line x1="1419.1" y1="1150.2" x2="1425.1" y2="1140.2" stroke="#333" stroke-width="1.6" />
<line x1="1426.5" y1="1031.3" x2="1432.5" y2="1021.3" stroke="#333" stroke-width="1.6" />
<line x1="1426.5" y1="1151.7" x2="1432.5" y2="1141.7" stroke="#333" stroke-width="1.6" />
<line x1="1433.9" y1="1030" x2="1439.9" y2="1020" stroke="#333" stroke-width="1.6" />
<line x1="1433.9" y1="1153" x2="1439.9" y2="1143" stroke="#333" stroke-width="1.6" />
<line x1="1441.3" y1="1028.8" x2="1447.3" y2="1018.8" stroke="#333" stroke-width="1.6" />
<line x1="1441.3" y1="1154.2" x2="1447.3" y2="1144.2" stroke="#333" stroke-width="1.6" />
<line x1="1448.7" y1="1027.8" x2="1454.7" y2="1017.8" stroke="#333" stroke-width="1.6" />
<line x1="1448.7" y1="1155.2" x2="1454.7" y2="1145.2" stroke="#333" stroke-width="1.6" />
<line x1="1456.1" y1="1026.9" x2="1462.1" y2="1016.9" stroke="#333" stroke-width="1.6" />
<line x1="1456.1" y1="1156.1" x2="1462.1" y2="1146.1" stroke="#333" stroke-width="1.6" />
<line x1="1463.6" y1="1026.1" x2="1469.6" y2="1016.1" stroke="#333" stroke-width="1.6" />
<line x1="1463.6" y1="1156.9" x2="1469.6" y2="1146.9" stroke="#333" stroke-width="1.6" />
<line x1="1471" y1="1025.6" x2="1477" y2="1015.6" stroke="#333" stroke-width="1.6" />
<line x1="1471" y1="1157.4" x2="1477" y2="1147.4" stroke="#333" stroke-width="1.6" />
<line x1="1478.4" y1="1025.2" x2="1484.4" y2="1015.2" stroke="#333" stroke-width="1.6" />
<line x1="1478.4" y1="1157.8" x2="1484.4" y2="1147.8" stroke="#333" stroke-width="1.6" />
<line x1="1485.8" y1="1025" x2="1491.8" y2="1015" stroke="#333" stroke-width="1.6" />
<line x1="1485.8" y1="1158" x2="1491.8" y2="1148" stroke="#333" stroke-width="1.6" />
<line x1="1493.2" y1="1025" x2="1499.2" y2="1015" stroke="#333" stroke-width="1.6" />
<line x1="1493.2" y1="1158" x2="1499.2" y2="1148" stroke="#333" stroke-width="1.6" />
<line x1="1500.6" y1="1025.2" x2="1506.6" y2="1015.2" stroke="#333" stroke-width="1.6" />
<line x1="1500.6" y1="1157.8" x2="1506.6" y2="1147.8" stroke="#333" stroke-width="1.6" />
<line x1="1508" y1="1025.6" x2="1514" y2="1015.6" stroke="#333" stroke-width="1.6" />
<line x1="1508" y1="1157.4" x2="1514" y2="1147.4" stroke="#333" stroke-width="1.6" />
<line x1="1515.4" y1="1026.1" x2="1521.4" y2="1016.1" stroke="#333" stroke-width="1.6" />
<line x1="1515.4" y1="1156.9" x2="1521.4" y2="1146.9" stroke="#333" stroke-width="1.6" />
<line x1="1522.9" y1="1026.9" x2="1528.9" y2="1016.9" stroke="#333" stroke-width="1.6" />
<line x1="1522.9" y1="1156.1" x2="1528.9" y2="1146.1" stroke="#333" stroke-width="1.6" />
<line x1="1530.3" y1="1027.8" x2="1536.3" y2="1017.8" stroke="#333" stroke-width="1.6" />
<line x1="1530.3" y1="1155.2" x2="1536.3" y2="1145.2" stroke="#333" stroke-width="1.6" />
<line x1="1537.7" y1="1028.8" x2="1543.7" y2="1018.8" stroke="#333" stroke-width="1.6" />
<line x1="1537.7" y1="1154.2" x2="1543.7" y2="1144.2" stroke="#333" stroke-width="1.6" />
<line x1="1545.1" y1="1030" x2="1551.1" y2="1020" stroke="#333" stroke-width="1.6" />
<line x1="1545.1" y1="1153" x2="1551.1" y2="1143" stroke="#333" stroke-width="1.6" />
<line x1="1552.5" y1="1031.3" x2="1558.5" y2="1021.3" stroke="#333" stroke-width="1.6" />
<line x1="1552.5" y1="1151.7" x2="1558.5" y2="1141.7" stroke="#333" stroke-width="1.6" />
<line x1="1559.9" y1="1032.8" x2="1565.9" y2="1022.8" stroke="#333" stroke-width="1.6" />
<line x1="1559.9" y1="1150.2" x2="1565.9" y2="1140.2" stroke="#333" stroke-width="1.6" />
<line x1="1567.3" y1="1034.3" x2="1573.3" y2="1024.3" stroke="#333" stroke-width="1.6" />
<line x1="1567.3" y1="1148.7" x2="1573.3" y2="1138.7" stroke="#333" stroke-width="1.6" />
<line x1="1574.8" y1="1035.9" x2="1580.8" y2="1025.9" stroke="#333" stroke-width="1.6" />
<line x1="1574.8" y1="1147.1" x2="1580.8" y2="1137.1" stroke="#333" stroke-width="1.6" />
<line x1="1582.2" y1="1037.6" x2="1588.2" y2="1027.6" stroke="#333" stroke-width="1.6" />
<line x1="1582.2" y1="1145.4" x2="1588.2" y2="1135.4" stroke="#333" stroke-width="1.6" />
<line x1="1589.6" y1="1039.3" x2="1595.6" y2="1029.3" stroke="#333" stroke-width="1.6" />
<line x1="1589.6" y1="1143.7" x2="1595.6" y2="1133.7" stroke="#333" stroke-width="1.6" />
<line x1="1597" y1="1041" x2="1603" y2="1031" stroke="#333" stroke-width="1.6" />
<line x1="1597" y1="1142" x2="1603" y2="1132" stroke="#333" stroke-width="1.6" />
<path d="M1375,1060 L1375,1118" fill="none" stroke="#555" stroke-width="3" />
<path d="M1609,1060 L1609,1118" fill="none" stroke="#555" stroke-width="2" />
<path d="M1395,1046 L1395,1126 M1590,1046 L1590,1126" fill="none" stroke="#444" stroke-width="1.2" />
<line x1="1397" y1="1040" x2="1425" y2="1050" stroke="#444" stroke-width="1.1" />
<line x1="1588" y1="1040" x2="1560" y2="1050" stroke="#444" stroke-width="1.1" />
<line x1="1397" y1="1132" x2="1425" y2="1122" stroke="#444" stroke-width="1.1" />
<line x1="1588" y1="1132" x2="1560" y2="1122" stroke="#444" stroke-width="1.1" />
<line x1="1370" y1="1085.8" x2="1420" y2="1085.8" stroke="#333" stroke-width="1.2" />
<line x1="1565" y1="1085.8" x2="1614" y2="1085.8" stroke="#333" stroke-width="1.2" />
<rect x="1476" y="997" width="33.6" height="17" fill="#fff" stroke="#1e1e1e" stroke-width="1.3" />
<line x1="1476" y1="1003" x2="1509.6" y2="1003" stroke="#666" stroke-width="1" />
<path d="M1463.5,958 L1468,958 L1468,966 L1473,968 L1473,999 L1463.5,999 Z" fill="#fff" stroke="#1e1e1e" stroke-width="1.4" />
<path d="M1522,958 L1517.5,958 L1517.5,966 L1512.5,968 L1512.5,999 L1522,999 Z" fill="#fff" stroke="#1e1e1e" stroke-width="1.4" />
<rect x="1473" y="967" width="39.5" height="32" fill="none" stroke="#1e1e1e" stroke-width="1.3" />
<rect x="1451.7" y="968" width="11.8" height="14.7" rx="2" fill="none" stroke="#1e1e1e" stroke-width="1.3" />
<rect x="1522" y="968" width="11.9" height="14.7" rx="2" fill="none" stroke="#1e1e1e" stroke-width="1.3" />
<circle cx="1492.8" cy="1085.8" r="71.6" fill="#fff" stroke="#111" stroke-width="5" />
<circle cx="1492.8" cy="1085.8" r="44.5" fill="none" stroke="#777" stroke-width="1.1" />
<circle cx="1492.8" cy="1085.8" r="41" fill="none" stroke="#555" stroke-width="1.1" />
<circle cx="1492.8" cy="1085.8" r="32" fill="none" stroke="#444" stroke-width="1.1" />
<circle cx="1492.8" cy="1085.8" r="22" fill="none" stroke="#222" stroke-width="2.4" />
<circle cx="1492.8" cy="1085.8" r="16.5" fill="none" stroke="#333" stroke-width="1.3" />
<circle cx="1492.8" cy="1085.8" r="12" fill="none" stroke="#333" stroke-width="1.3" />
<circle cx="1492.8" cy="1085.8" r="8" fill="none" stroke="#333" stroke-width="1.3" />
<circle cx="1492.8" cy="1085.8" r="3.8" fill="none" stroke="#333" stroke-width="1.2" />
<path d="M1476.8,1102.8 Q1479.8,1133.8 1489.8,1155.8 M1508.8,1102.8 Q1505.8,1133.8 1495.8,1155.8" fill="none" stroke="#333" stroke-width="2.4" stroke-dasharray="5,2"/>
<path d="M1483.8,1109.8 Q1485.8,1133.8 1491.3,1153.8 M1501.8,1109.8 Q1499.8,1133.8 1494.3,1153.8" fill="none" stroke="#888" stroke-width="1.0" />
<path d="M1446,1151 L1446,1167 L1539.7,1167 L1539.7,1151" fill="none" stroke="#1e1e1e" stroke-width="1.3" />
<line x1="1450" y1="1158" x2="1536" y2="1158" stroke="#555" stroke-width="1" />
<path d="M1458.3,1167 L1458.3,1183 Q1464.3,1191 1470.3,1183 L1470.3,1167" fill="#fff" stroke="#1e1e1e" stroke-width="1.4" />
<line x1="1462.3" y1="1168" x2="1462.3" y2="1184" stroke="#666" stroke-width="0.8" />
<line x1="1466.3" y1="1168" x2="1466.3" y2="1184" stroke="#666" stroke-width="0.8" />
<path d="M1515.3,1167 L1515.3,1183 Q1521.3,1191 1527.3,1183 L1527.3,1167" fill="#fff" stroke="#1e1e1e" stroke-width="1.4" />
<line x1="1519.3" y1="1168" x2="1519.3" y2="1184" stroke="#666" stroke-width="0.8" />
<line x1="1523.3" y1="1168" x2="1523.3" y2="1184" stroke="#666" stroke-width="0.8" />
<rect x="1489.8" y="1152" width="6" height="42.8" rx="2.5" fill="#555" stroke="#222" stroke-width="1.2" />
<line x1="1370" y1="107.9" x2="1615.3" y2="107.9" stroke="#4c4c4c" stroke-width="1.3" />
<line x1="1370" y1="102.5" x2="1370" y2="653" stroke="#4c4c4c" stroke-width="1.1" />
<line x1="1615.3" y1="102.5" x2="1615.3" y2="653" stroke="#4c4c4c" stroke-width="1.1" />
<polygon points="1370,107.9 1391,104.6 1389.3,107.9 1391,111.2" fill="#111" stroke="none" stroke-width="1" />
<polygon points="1615.3,107.9 1594.3,111.2 1596,107.9 1594.3,104.6" fill="#111" stroke="none" stroke-width="1" />
<text x="1466.7" y="102" font-size="26" fill="#444444" text-anchor="start" font-family="Liberation Sans" textLength="40.1" lengthAdjust="spacingAndGlyphs" >226</text>
<line x1="1762.7" y1="150" x2="1762.7" y2="715.6" stroke="#4c4c4c" stroke-width="1.3" />
<line x1="1758.7" y1="149.9" x2="1951.5" y2="149.9" stroke="#4c4c4c" stroke-width="1.1" />
<line x1="1758" y1="715.6" x2="1883.5" y2="715.6" stroke="#4c4c4c" stroke-width="1.1" />
<polygon points="1762.7,150 1766,171 1762.7,169.3 1759.4,171" fill="#111" stroke="none" stroke-width="1" />
<polygon points="1762.7,715.6 1759.4,694.6 1762.7,696.3 1766,694.6" fill="#111" stroke="none" stroke-width="1" />
<text x="1758.7" y="433" font-size="26" fill="#444444" text-anchor="start" font-family="Liberation Sans" textLength="38.7" lengthAdjust="spacingAndGlyphs" transform="rotate(-90 1758.7 433)" >522</text>
<line x1="1330.2" y1="957.6" x2="1330.2" y2="1194.8" stroke="#4c4c4c" stroke-width="1.3" />
<line x1="1325.2" y1="957.6" x2="1509.6" y2="957.6" stroke="#4c4c4c" stroke-width="1.1" />
<line x1="1325.2" y1="1194.8" x2="1485.3" y2="1194.8" stroke="#4c4c4c" stroke-width="1.1" />
<polygon points="1330.2,957.6 1333.5,978.6 1330.2,976.9 1326.9,978.6" fill="#111" stroke="none" stroke-width="1" />
<polygon points="1330.2,1194.8 1326.9,1173.8 1330.2,1175.5 1333.5,1173.8" fill="#111" stroke="none" stroke-width="1" />
<text x="1326" y="1096.7" font-size="26" fill="#444444" text-anchor="start" font-family="Liberation Sans" textLength="41" lengthAdjust="spacingAndGlyphs" transform="rotate(-90 1326 1096.7)" >218</text>
<g transform="translate(1537,-15)">
<path d="M470,1012 L456,1038 L460,1060 L468,1058 L479,1016 Z" fill="#9a7a14" stroke="#3a2c06" stroke-width="1.3" />
<path d="M470,975 L482,977 L492,984 L503,988 L510,996 L510,1012 L505,1022 L497,1019 L486,1021 L474,1016 L469,1004 Z" fill="#c6a628" stroke="#3a2c06" stroke-width="1.4" />
<path d="M474,984 L486,988 M478,1000 Q488,992 500,998" fill="none" stroke="#6a5410" stroke-width="1.6" />
<ellipse cx="500" cy="1008" rx="5" ry="6" fill="#d8b860" stroke="#5a4410" stroke-width="1"/>
<polygon points="288,1212 291,1243 300,1256 378,1305 428,1323 446,1322 499,1294 505,1268 503,1250 480,1268 430,1287 385,1271 300,1226" fill="url(#base)" stroke="#2a2a2a" stroke-width="1.6" stroke-linejoin="round"/>
<line x1="385" y1="1272" x2="382" y2="1300" stroke="#444" stroke-width="1.2" />
<line x1="430" y1="1288" x2="430" y2="1320" stroke="#444" stroke-width="1.2" />
<line x1="470" y1="1278" x2="468" y2="1305" stroke="#444" stroke-width="1.2" />
<line x1="490" y1="1272" x2="490" y2="1296" stroke="#444" stroke-width="1.2" />
<line x1="300" y1="1228" x2="301" y2="1252" stroke="#444" stroke-width="1.2" />
<line x1="320" y1="1238" x2="322" y2="1265" stroke="#444" stroke-width="1.2" />
<line x1="345" y1="1252" x2="347" y2="1282" stroke="#444" stroke-width="1.2" />
<path d="M300,1245 Q330,1262 360,1280 Q380,1292 400,1296" fill="none" stroke="#666" stroke-width="1.2" />
<path d="M296,1236 Q330,1252 370,1272 M440,1310 Q470,1300 495,1282 M392,1290 L396,1315 M452,1300 L452,1318" fill="none" stroke="#555" stroke-width="1.1" />
<path d="M440,1300 Q460,1296 480,1286" fill="none" stroke="#888" stroke-width="1" />
<polygon points="293,1066 305,1052 333,1038 362,1036 460,1049 500,1111 509,1127 513,1150 516,1250 503,1271 482,1278 430,1294 386,1279 378,1279 305,1243 289,1226 289,1212 281,1203 283,1190 287.5,1186 288,1085" fill="url(#front)" stroke="#20223a" stroke-width="1.6" stroke-linejoin="round"/>
<polygon points="429.7,1149 503,1120 509,1127 513,1150 516,1250 503,1271 482,1278 430,1294" fill="#5a5c78" stroke="none" stroke-width="1" />
<polygon points="478,1134 503,1120 509,1127 513,1150 516,1250 503,1271 484,1275" fill="#5e607c" stroke="none" stroke-width="1" />
<polygon points="293,1066 305,1052 333,1038 362,1036 460,1049 500,1111 503,1120 430,1149 380,1124 295,1072" fill="#575972" stroke="none" stroke-width="1" />
<polygon points="408,1061 435.5,1055 478,1134 430,1149" fill="#5e607c" stroke="none" stroke-width="1" />
<path d="M295,1072 Q372,1122 428,1148 Q470,1133 504,1120" fill="none" stroke="#20223a" stroke-width="2.0" />
<path d="M408,1061 L429.7,1149 L428,1294" fill="none" stroke="#20223a" stroke-width="1.9" />
<path d="M435.5,1055 L478,1134 L483.6,1275" fill="none" stroke="#20223a" stroke-width="1.9" />
<path d="M289,1212 Q292,1222 305,1236" fill="none" stroke="#20223a" stroke-width="1.3" />
<polygon points="293,1066 305,1052 333,1038 362,1036 460,1049 500,1111 509,1127 513,1150 516,1250 503,1271 482,1278 430,1294 386,1279 378,1279 305,1243 289,1226 289,1212 281,1203 283,1190 287.5,1186 288,1085" fill="none" stroke="#20223a" stroke-width="2.1" stroke-linejoin="round"/>
<path d="M384,1244 L430,1256 L514,1228" fill="none" stroke="#20223a" stroke-width="1.4" />
<path d="M384,1250 L430,1262 L514,1234" fill="none" stroke="#20223a" stroke-width="1.4" />
<path d="M384,1255 L430,1267 L514,1239" fill="none" stroke="#20223a" stroke-width="1.4" />
<path d="M282,1190 Q279,1200 284,1212 M288,1186 Q284,1198 290,1214" fill="none" stroke="#20223a" stroke-width="1.3" />
<polygon points="318,1113 392,1148 385.5,1153 309.5,1118.5" fill="#8a8ca8" stroke="none" stroke-width="1" />
<polygon points="392,1148 386,1286 378,1290 385.5,1153" fill="#6d6f8c" stroke="none" stroke-width="1" />
<polygon points="309.5,1118.5 385.5,1153 378,1290 305,1250" fill="#a3a09c" stroke="#333" stroke-width="1.2" />
<polygon points="306,1222 379,1256 378,1290 305,1250" fill="#d9d9d9" stroke="#555" stroke-width="0.8" />
<text x="312" y="1134" font-size="11" fill="#222" text-anchor="start" font-family="Liberation Serif" font-weight="bold" textLength="42" lengthAdjust="spacingAndGlyphs" transform="rotate(26 312 1134)">ROCKET-1</text>
<circle cx="313" cy="1126" r="1.8" fill="#222" stroke="none" stroke-width="1.2" />
<circle cx="378" cy="1158" r="1.8" fill="#222" stroke="none" stroke-width="1.2" />
<circle cx="314" cy="1166" r="1.8" fill="#222" stroke="none" stroke-width="1.2" />
<circle cx="377" cy="1196" r="1.8" fill="#222" stroke="none" stroke-width="1.2" />
<circle cx="313" cy="1205" r="1.8" fill="#222" stroke="none" stroke-width="1.2" />
<circle cx="350" cy="1212" r="1.8" fill="#222" stroke="none" stroke-width="1.2" />
<circle cx="376" cy="1232" r="1.8" fill="#222" stroke="none" stroke-width="1.2" />
<circle cx="340" cy="1148" r="1.8" fill="#222" stroke="none" stroke-width="1.2" />
<line x1="312" y1="1235" x2="350" y2="1253" stroke="#888" stroke-width="0.9" />
<line x1="312" y1="1243" x2="340" y2="1256" stroke="#888" stroke-width="0.9" />
<line x1="350" y1="1262" x2="372" y2="1272" stroke="#888" stroke-width="0.9" />
<polygon points="304,1161 318,1154 328.5,1158 328.5,1216 320,1216 320,1167 304,1169" fill="#2b47aa" stroke="#1a2a60" stroke-width="1" />
<polygon points="306,1161 318,1155.5 326,1159 316,1164" fill="#5070d4" stroke="none" stroke-width="1" />
<polygon points="344,1191 360,1182 369.5,1187 369.5,1242 361.5,1242 361.5,1196 344,1199" fill="#d6ce44" stroke="#6a6420" stroke-width="1" />
<polygon points="346,1191 360,1183.5 367.5,1187.5 356,1193" fill="#eee880" stroke="none" stroke-width="1" />
<path d="M324.6,1030.4 A74.1,35.6 0 0 1 398.7,994.8 A74.2,12.2 0 0 1 472.9,1007 L472.9,1019.6 A74.2,35.8 0 0 1 398.7,1055.4 A74.1,12.4 0 0 1 324.6,1043 Z" fill="url(#insR)" stroke="#14172a" stroke-width="2.2" />
<path d="M324.6,1030.4 A74.1,12.4 0 0 0 398.7,1042.8 A74.2,35.8 0 0 0 472.9,1007" fill="none" stroke="#14172a" stroke-width="2.8" />
<path d="M324.6,1001.8 A74.1,35.6 0 0 1 398.7,966.2 A74.2,12.2 0 0 1 472.9,978.4 L472.9,991 A74.2,35.8 0 0 1 398.7,1026.8 A74.1,12.4 0 0 1 324.6,1014.4 Z" fill="url(#insR)" stroke="#14172a" stroke-width="2.2" />
<path d="M324.6,1001.8 A74.1,12.4 0 0 0 398.7,1014.2 A74.2,35.8 0 0 0 472.9,978.4" fill="none" stroke="#14172a" stroke-width="2.8" />
<path d="M324.6,973.2 A74.1,35.6 0 0 1 398.7,937.6 A74.2,12.2 0 0 1 472.9,949.8 L472.9,962.4 A74.2,35.8 0 0 1 398.7,998.2 A74.1,12.4 0 0 1 324.6,985.8 Z" fill="url(#insR)" stroke="#14172a" stroke-width="2.2" />
<path d="M324.6,973.2 A74.1,12.4 0 0 0 398.7,985.6 A74.2,35.8 0 0 0 472.9,949.8" fill="none" stroke="#14172a" stroke-width="2.8" />
<path d="M324.6,944.6 A74.1,35.6 0 0 1 398.7,909 A74.2,12.2 0 0 1 472.9,921.2 L472.9,933.8 A74.2,35.8 0 0 1 398.7,969.6 A74.1,12.4 0 0 1 324.6,957.2 Z" fill="url(#insR)" stroke="#14172a" stroke-width="2.2" />
<path d="M324.6,944.6 A74.1,12.4 0 0 0 398.7,957 A74.2,35.8 0 0 0 472.9,921.2" fill="none" stroke="#14172a" stroke-width="2.8" />
<path d="M324.6,916 A74.1,35.6 0 0 1 398.7,880.4 A74.2,12.2 0 0 1 472.9,892.6 L472.9,905.2 A74.2,35.8 0 0 1 398.7,941 A74.1,12.4 0 0 1 324.6,928.6 Z" fill="url(#insR)" stroke="#14172a" stroke-width="2.2" />
<path d="M324.6,916 A74.1,12.4 0 0 0 398.7,928.4 A74.2,35.8 0 0 0 472.9,892.6" fill="none" stroke="#14172a" stroke-width="2.8" />
<path d="M324.6,916 A80.4,67 0 0 1 405,849 A67.9,43.6 0 0 1 472.9,892.6 A74.2,35.8 0 0 1 398.7,928.4 A74.1,12.4 0 0 1 324.6,916 Z" fill="#686b8c" stroke="#14172a" stroke-width="2.2" />
<g transform="rotate(-9 399 886)">
<ellipse cx="398" cy="887" rx="43" ry="26" fill="#6a6d8e" stroke="#1c1e32" stroke-width="2"/>
<ellipse cx="399" cy="884" rx="36" ry="20" fill="#74779a" stroke="#2a2c44" stroke-width="1.3"/>
<ellipse cx="400.5" cy="879" rx="30" ry="18" fill="#5e6182" stroke="#1c1e32" stroke-width="2"/>
<ellipse cx="400.5" cy="876" rx="23" ry="12" fill="#6a6d8e" stroke="#2a2c44" stroke-width="1.3"/>
</g>
<path d="M383.5,840 L383.5,864 Q399,872 415.2,864 L415.2,840 Z" fill="url(#gold)" stroke="#3a2c08" stroke-width="1.2" />
<ellipse cx="399.3" cy="840" rx="15.8" ry="4.5" fill="#b89430" stroke="#3a2c08" stroke-width="1"/>
<line x1="383.5" y1="850" x2="415.2" y2="850" stroke="#5a4510" stroke-width="1" />
<path d="M388.3,838 L388.3,805 Q398.7,797 409.1,805 L409.1,838 Z" fill="url(#gold)" stroke="#3a2c08" stroke-width="1.2" />
<ellipse cx="398.7" cy="804" rx="10.4" ry="3.8" fill="#e2c64c" stroke="#5a4510" stroke-width="0.8"/>
<rect x="402" y="817" width="5" height="13" fill="#3a2c08" stroke="none" stroke-width="1.2" />
<path d="M346,866 Q362,856 386,860 L396,868 L398,878 Q388,884 372,881 Q358,886 348,893 Z" fill="#7a5a48" stroke="#3a2a22" stroke-width="1.4" />
<path d="M352,870 Q368,864 386,868 M356,878 Q370,874 386,876" fill="none" stroke="#7a5444" stroke-width="1.3" />
<ellipse cx="335" cy="880.6" rx="12.5" ry="20.5" transform="rotate(20 335 880.6)" fill="#686b8c" stroke="#3a2a22" stroke-width="4"/>
<ellipse cx="335" cy="880.6" rx="12.5" ry="20.5" transform="rotate(20 335 880.6)" fill="none" stroke="#b09070" stroke-width="1.1" stroke-dasharray="3,4"/>
</g>
</svg></body></html>
